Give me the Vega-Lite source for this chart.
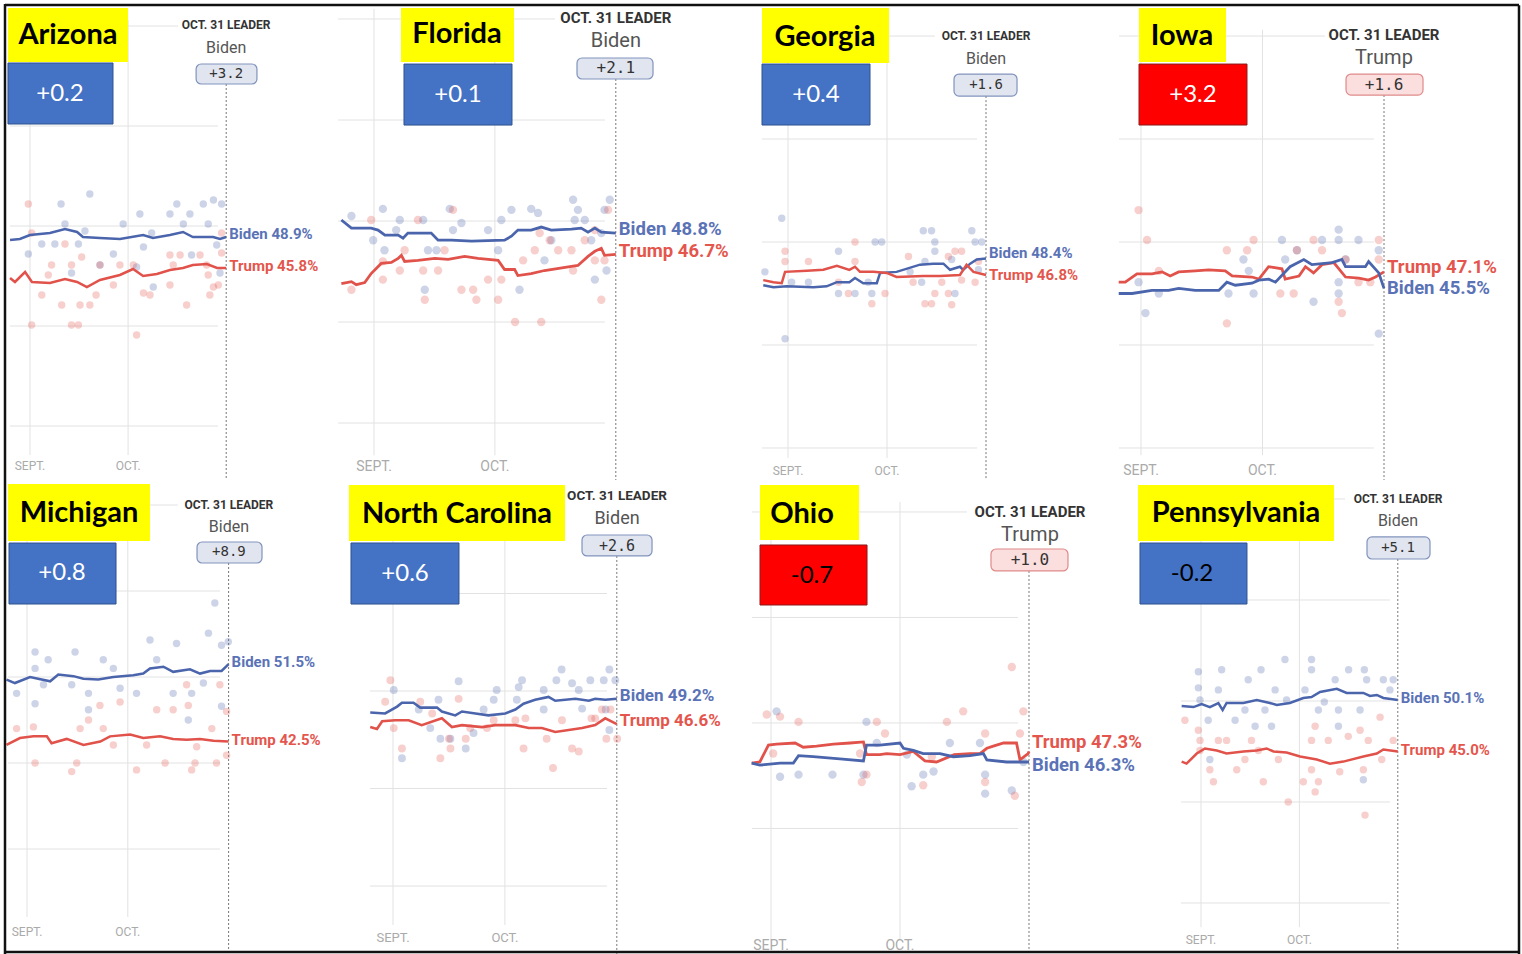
{
"$schema":"https://vega.github.io/schema/vega-lite/v6.json",
"padding":0,"background":"white","spacing":0,"bounds":"flush","columns":4,
"config":{"view":{"stroke":null},"axis":{"disable":true},"legend":{"disable":true}},
"resolve":{"scale":{"x":"independent","y":"independent"}},
"datasets":{
"summary":[
{"st":"AZ","name":"Arizona","change":"+0.2","leader":"Biden","margin":"+3.2","biden":48.9,"trump":45.8,"bl":"Biden 48.9%","tl":"Trump 45.8%"},
{"st":"FL","name":"Florida","change":"+0.1","leader":"Biden","margin":"+2.1","biden":48.8,"trump":46.7,"bl":"Biden 48.8%","tl":"Trump 46.7%"},
{"st":"GA","name":"Georgia","change":"+0.4","leader":"Biden","margin":"+1.6","biden":48.4,"trump":46.8,"bl":"Biden 48.4%","tl":"Trump 46.8%"},
{"st":"IA","name":"Iowa","change":"+3.2","leader":"Trump","margin":"+1.6","biden":45.5,"trump":47.1,"bl":"Biden 45.5%","tl":"Trump 47.1%"},
{"st":"MI","name":"Michigan","change":"+0.8","leader":"Biden","margin":"+8.9","biden":51.5,"trump":42.5,"bl":"Biden 51.5%","tl":"Trump 42.5%"},
{"st":"NC","name":"North Carolina","change":"+0.6","leader":"Biden","margin":"+2.6","biden":49.2,"trump":46.6,"bl":"Biden 49.2%","tl":"Trump 46.6%"},
{"st":"OH","name":"Ohio","change":"-0.7","leader":"Trump","margin":"+1.0","biden":46.3,"trump":47.3,"bl":"Biden 46.3%","tl":"Trump 47.3%"},
{"st":"PA","name":"Pennsylvania","change":"-0.2","leader":"Biden","margin":"+5.1","biden":50.1,"trump":45.0,"bl":"Biden 50.1%","tl":"Trump 45.0%"}
],
"avg":[
{"state":"AZ","cand":"Biden","day":-6.1,"pct":48.6},{"state":"AZ","cand":"Biden","day":-3.1,"pct":48.7},{"state":"AZ","cand":"Biden","day":0,"pct":49.1},{"state":"AZ","cand":"Biden","day":6.1,"pct":49.3},{"state":"AZ","cand":"Biden","day":10.7,"pct":49.7},{"state":"AZ","cand":"Biden","day":14.4,"pct":49.4},{"state":"AZ","cand":"Biden","day":16.2,"pct":48.9},{"state":"AZ","cand":"Biden","day":21.4,"pct":48.8},{"state":"AZ","cand":"Biden","day":27.5,"pct":48.7},{"state":"AZ","cand":"Biden","day":34.6,"pct":49.1},{"state":"AZ","cand":"Biden","day":37.6,"pct":48.8},{"state":"AZ","cand":"Biden","day":42.8,"pct":49.1},{"state":"AZ","cand":"Biden","day":46.8,"pct":49.4},{"state":"AZ","cand":"Biden","day":49.8,"pct":48.9},{"state":"AZ","cand":"Biden","day":56,"pct":48.9},{"state":"AZ","cand":"Biden","day":58.1,"pct":48.7},{"state":"AZ","cand":"Biden","day":60,"pct":48.9},
{"state":"AZ","cand":"Trump","day":-6.1,"pct":44.8},{"state":"AZ","cand":"Trump","day":-4.6,"pct":44.4},{"state":"AZ","cand":"Trump","day":-1.5,"pct":45.4},{"state":"AZ","cand":"Trump","day":0.6,"pct":44.4},{"state":"AZ","cand":"Trump","day":6.1,"pct":44.3},{"state":"AZ","cand":"Trump","day":10.7,"pct":44.7},{"state":"AZ","cand":"Trump","day":14.4,"pct":44.4},{"state":"AZ","cand":"Trump","day":17.4,"pct":43.9},{"state":"AZ","cand":"Trump","day":21.4,"pct":44.6},{"state":"AZ","cand":"Trump","day":27.5,"pct":45.1},{"state":"AZ","cand":"Trump","day":31.5,"pct":45.7},{"state":"AZ","cand":"Trump","day":34.6,"pct":45.0},{"state":"AZ","cand":"Trump","day":38.8,"pct":45.2},{"state":"AZ","cand":"Trump","day":42.8,"pct":45.6},{"state":"AZ","cand":"Trump","day":46.8,"pct":45.8},{"state":"AZ","cand":"Trump","day":49.8,"pct":46.1},{"state":"AZ","cand":"Trump","day":54.1,"pct":46.2},{"state":"AZ","cand":"Trump","day":57.2,"pct":45.8},{"state":"AZ","cand":"Trump","day":60,"pct":45.8},
{"state":"FL","cand":"Biden","day":-8.1,"pct":50.1},{"state":"FL","cand":"Biden","day":-5.6,"pct":49.3},{"state":"FL","cand":"Biden","day":-0.7,"pct":49.3},{"state":"FL","cand":"Biden","day":1.0,"pct":49.1},{"state":"FL","cand":"Biden","day":2.7,"pct":48.6},{"state":"FL","cand":"Biden","day":6.0,"pct":48.6},{"state":"FL","cand":"Biden","day":7.2,"pct":48.3},{"state":"FL","cand":"Biden","day":8.4,"pct":48.8},{"state":"FL","cand":"Biden","day":14.2,"pct":48.8},{"state":"FL","cand":"Biden","day":15.9,"pct":48.1},{"state":"FL","cand":"Biden","day":19.2,"pct":48.1},{"state":"FL","cand":"Biden","day":24.2,"pct":48.0},{"state":"FL","cand":"Biden","day":32.4,"pct":48.1},{"state":"FL","cand":"Biden","day":34.1,"pct":48.5},{"state":"FL","cand":"Biden","day":35.7,"pct":49.1},{"state":"FL","cand":"Biden","day":39.0,"pct":49.1},{"state":"FL","cand":"Biden","day":41.5,"pct":49.4},{"state":"FL","cand":"Biden","day":44.0,"pct":49.1},{"state":"FL","cand":"Biden","day":49.0,"pct":49.2},{"state":"FL","cand":"Biden","day":51.4,"pct":49.3},{"state":"FL","cand":"Biden","day":53.1,"pct":48.9},{"state":"FL","cand":"Biden","day":54.8,"pct":49.3},{"state":"FL","cand":"Biden","day":56.4,"pct":48.9},{"state":"FL","cand":"Biden","day":60,"pct":48.8},
{"state":"FL","cand":"Trump","day":-8.1,"pct":43.8},{"state":"FL","cand":"Trump","day":-5.6,"pct":44.0},{"state":"FL","cand":"Trump","day":-4.4,"pct":43.7},{"state":"FL","cand":"Trump","day":-2.3,"pct":43.9},{"state":"FL","cand":"Trump","day":-0.7,"pct":44.8},{"state":"FL","cand":"Trump","day":1.8,"pct":45.8},{"state":"FL","cand":"Trump","day":4.3,"pct":45.9},{"state":"FL","cand":"Trump","day":6.0,"pct":46.3},{"state":"FL","cand":"Trump","day":6.8,"pct":46.6},{"state":"FL","cand":"Trump","day":7.6,"pct":46.0},{"state":"FL","cand":"Trump","day":10.9,"pct":46.1},{"state":"FL","cand":"Trump","day":15.1,"pct":46.3},{"state":"FL","cand":"Trump","day":18.4,"pct":46.2},{"state":"FL","cand":"Trump","day":22.5,"pct":46.5},{"state":"FL","cand":"Trump","day":25.8,"pct":46.3},{"state":"FL","cand":"Trump","day":30.8,"pct":46.1},{"state":"FL","cand":"Trump","day":32.4,"pct":45.2},{"state":"FL","cand":"Trump","day":34.9,"pct":45.2},{"state":"FL","cand":"Trump","day":35.7,"pct":44.6},{"state":"FL","cand":"Trump","day":39.0,"pct":44.8},{"state":"FL","cand":"Trump","day":42.3,"pct":45.1},{"state":"FL","cand":"Trump","day":49.0,"pct":45.5},{"state":"FL","cand":"Trump","day":50.6,"pct":45.6},{"state":"FL","cand":"Trump","day":53.1,"pct":46.5},{"state":"FL","cand":"Trump","day":54.8,"pct":47.0},{"state":"FL","cand":"Trump","day":56.4,"pct":47.3},{"state":"FL","cand":"Trump","day":57.2,"pct":46.6},{"state":"FL","cand":"Trump","day":60,"pct":46.7},
{"state":"GA","cand":"Biden","day":-7.5,"pct":45.8},{"state":"GA","cand":"Biden","day":-4.4,"pct":45.6},{"state":"GA","cand":"Biden","day":-0.4,"pct":45.7},{"state":"GA","cand":"Biden","day":7.7,"pct":45.6},{"state":"GA","cand":"Biden","day":11.7,"pct":45.7},{"state":"GA","cand":"Biden","day":14.8,"pct":46.1},{"state":"GA","cand":"Biden","day":18.6,"pct":46.1},{"state":"GA","cand":"Biden","day":20.3,"pct":46.5},{"state":"GA","cand":"Biden","day":22.8,"pct":46.0},{"state":"GA","cand":"Biden","day":26.9,"pct":46.0},{"state":"GA","cand":"Biden","day":27.9,"pct":47.0},{"state":"GA","cand":"Biden","day":32.9,"pct":47.1},{"state":"GA","cand":"Biden","day":40.0,"pct":47.8},{"state":"GA","cand":"Biden","day":44.0,"pct":47.9},{"state":"GA","cand":"Biden","day":47.1,"pct":47.9},{"state":"GA","cand":"Biden","day":49.1,"pct":47.3},{"state":"GA","cand":"Biden","day":52.1,"pct":47.6},{"state":"GA","cand":"Biden","day":53.1,"pct":47.3},{"state":"GA","cand":"Biden","day":55.2,"pct":47.9},{"state":"GA","cand":"Biden","day":57.2,"pct":48.3},{"state":"GA","cand":"Biden","day":60,"pct":48.4},
{"state":"GA","cand":"Trump","day":-7.5,"pct":46.3},{"state":"GA","cand":"Trump","day":-4.4,"pct":46.1},{"state":"GA","cand":"Trump","day":-1.9,"pct":46.0},{"state":"GA","cand":"Trump","day":-0.9,"pct":47.1},{"state":"GA","cand":"Trump","day":5.7,"pct":47.2},{"state":"GA","cand":"Trump","day":10.7,"pct":47.3},{"state":"GA","cand":"Trump","day":14.8,"pct":47.7},{"state":"GA","cand":"Trump","day":18.6,"pct":47.3},{"state":"GA","cand":"Trump","day":20.3,"pct":47.6},{"state":"GA","cand":"Trump","day":21.8,"pct":47.1},{"state":"GA","cand":"Trump","day":25.9,"pct":47.1},{"state":"GA","cand":"Trump","day":29.9,"pct":47.0},{"state":"GA","cand":"Trump","day":32.9,"pct":46.6},{"state":"GA","cand":"Trump","day":41.0,"pct":46.7},{"state":"GA","cand":"Trump","day":46.1,"pct":46.7},{"state":"GA","cand":"Trump","day":52.1,"pct":46.8},{"state":"GA","cand":"Trump","day":54.1,"pct":47.8},{"state":"GA","cand":"Trump","day":56.2,"pct":47.1},{"state":"GA","cand":"Trump","day":60,"pct":46.8},
{"state":"IA","cand":"Trump","day":-5.5,"pct":46.1},{"state":"IA","cand":"Trump","day":-3.9,"pct":46.1},{"state":"IA","cand":"Trump","day":-1.0,"pct":46.9},{"state":"IA","cand":"Trump","day":2.7,"pct":46.9},{"state":"IA","cand":"Trump","day":5.2,"pct":47.1},{"state":"IA","cand":"Trump","day":7.2,"pct":46.7},{"state":"IA","cand":"Trump","day":9.3,"pct":47.1},{"state":"IA","cand":"Trump","day":13.4,"pct":47.2},{"state":"IA","cand":"Trump","day":16.7,"pct":47.3},{"state":"IA","cand":"Trump","day":20.8,"pct":47.2},{"state":"IA","cand":"Trump","day":22.5,"pct":46.7},{"state":"IA","cand":"Trump","day":27.4,"pct":46.6},{"state":"IA","cand":"Trump","day":29.1,"pct":46.4},{"state":"IA","cand":"Trump","day":31.5,"pct":47.6},{"state":"IA","cand":"Trump","day":34.8,"pct":47.4},{"state":"IA","cand":"Trump","day":35.6,"pct":46.4},{"state":"IA","cand":"Trump","day":39.0,"pct":46.7},{"state":"IA","cand":"Trump","day":40.6,"pct":47.6},{"state":"IA","cand":"Trump","day":42.6,"pct":47.0},{"state":"IA","cand":"Trump","day":44.7,"pct":47.8},{"state":"IA","cand":"Trump","day":47.6,"pct":48.0},{"state":"IA","cand":"Trump","day":50.5,"pct":46.6},{"state":"IA","cand":"Trump","day":53.8,"pct":46.5},{"state":"IA","cand":"Trump","day":56.2,"pct":46.3},{"state":"IA","cand":"Trump","day":57.9,"pct":46.6},{"state":"IA","cand":"Trump","day":60,"pct":47.1},
{"state":"IA","cand":"Biden","day":-5.5,"pct":45.0},{"state":"IA","cand":"Biden","day":-2.2,"pct":45.0},{"state":"IA","cand":"Biden","day":2.7,"pct":45.3},{"state":"IA","cand":"Biden","day":6.8,"pct":45.3},{"state":"IA","cand":"Biden","day":9.3,"pct":45.5},{"state":"IA","cand":"Biden","day":13.4,"pct":45.3},{"state":"IA","cand":"Biden","day":19.2,"pct":45.3},{"state":"IA","cand":"Biden","day":21.2,"pct":46.1},{"state":"IA","cand":"Biden","day":23.3,"pct":45.8},{"state":"IA","cand":"Biden","day":27.4,"pct":46.0},{"state":"IA","cand":"Biden","day":29.1,"pct":46.3},{"state":"IA","cand":"Biden","day":31.5,"pct":46.4},{"state":"IA","cand":"Biden","day":33.2,"pct":46.1},{"state":"IA","cand":"Biden","day":36.8,"pct":47.6},{"state":"IA","cand":"Biden","day":40.2,"pct":48.3},{"state":"IA","cand":"Biden","day":42.2,"pct":47.8},{"state":"IA","cand":"Biden","day":47.2,"pct":48.0},{"state":"IA","cand":"Biden","day":49.6,"pct":48.3},{"state":"IA","cand":"Biden","day":50.5,"pct":47.6},{"state":"IA","cand":"Biden","day":55.4,"pct":47.6},{"state":"IA","cand":"Biden","day":56.2,"pct":48.1},{"state":"IA","cand":"Biden","day":58.7,"pct":47.0},{"state":"IA","cand":"Biden","day":60,"pct":45.5},
{"state":"MI","cand":"Biden","day":-6.1,"pct":49.7},{"state":"MI","cand":"Biden","day":-3.6,"pct":49.3},{"state":"MI","cand":"Biden","day":0.9,"pct":50.0},{"state":"MI","cand":"Biden","day":6.9,"pct":49.5},{"state":"MI","cand":"Biden","day":9.3,"pct":50.3},{"state":"MI","cand":"Biden","day":13.8,"pct":50.1},{"state":"MI","cand":"Biden","day":16.8,"pct":49.8},{"state":"MI","cand":"Biden","day":21.2,"pct":49.7},{"state":"MI","cand":"Biden","day":25.7,"pct":50.0},{"state":"MI","cand":"Biden","day":31.6,"pct":50.2},{"state":"MI","cand":"Biden","day":34.6,"pct":50.4},{"state":"MI","cand":"Biden","day":36.6,"pct":51.0},{"state":"MI","cand":"Biden","day":40.6,"pct":51.2},{"state":"MI","cand":"Biden","day":43.5,"pct":50.6},{"state":"MI","cand":"Biden","day":48.5,"pct":50.9},{"state":"MI","cand":"Biden","day":51.5,"pct":50.4},{"state":"MI","cand":"Biden","day":54.5,"pct":50.7},{"state":"MI","cand":"Biden","day":57.9,"pct":50.7},{"state":"MI","cand":"Biden","day":60,"pct":51.5},
{"state":"MI","cand":"Trump","day":-6.1,"pct":42.1},{"state":"MI","cand":"Trump","day":-2.1,"pct":42.9},{"state":"MI","cand":"Trump","day":1.9,"pct":43.1},{"state":"MI","cand":"Trump","day":5.9,"pct":43.1},{"state":"MI","cand":"Trump","day":7.3,"pct":42.3},{"state":"MI","cand":"Trump","day":11.8,"pct":42.8},{"state":"MI","cand":"Trump","day":16.8,"pct":42.1},{"state":"MI","cand":"Trump","day":21.8,"pct":42.5},{"state":"MI","cand":"Trump","day":24.7,"pct":43.1},{"state":"MI","cand":"Trump","day":30.7,"pct":43.3},{"state":"MI","cand":"Trump","day":34.6,"pct":42.9},{"state":"MI","cand":"Trump","day":39.6,"pct":43.1},{"state":"MI","cand":"Trump","day":43.5,"pct":42.8},{"state":"MI","cand":"Trump","day":47.5,"pct":42.7},{"state":"MI","cand":"Trump","day":51.5,"pct":42.8},{"state":"MI","cand":"Trump","day":55.5,"pct":42.6},{"state":"MI","cand":"Trump","day":60,"pct":42.5},
{"state":"NC","cand":"Biden","day":-6.1,"pct":47.8},{"state":"NC","cand":"Biden","day":-2.1,"pct":47.7},{"state":"NC","cand":"Biden","day":1.1,"pct":48.4},{"state":"NC","cand":"Biden","day":2.4,"pct":48.8},{"state":"NC","cand":"Biden","day":5.5,"pct":48.8},{"state":"NC","cand":"Biden","day":7.3,"pct":48.3},{"state":"NC","cand":"Biden","day":11.8,"pct":48.3},{"state":"NC","cand":"Biden","day":13.1,"pct":47.9},{"state":"NC","cand":"Biden","day":16.7,"pct":47.5},{"state":"NC","cand":"Biden","day":18.5,"pct":47.9},{"state":"NC","cand":"Biden","day":22.1,"pct":47.7},{"state":"NC","cand":"Biden","day":25.6,"pct":47.5},{"state":"NC","cand":"Biden","day":30.1,"pct":47.7},{"state":"NC","cand":"Biden","day":32.8,"pct":48.1},{"state":"NC","cand":"Biden","day":35.0,"pct":48.7},{"state":"NC","cand":"Biden","day":38.1,"pct":49.1},{"state":"NC","cand":"Biden","day":41.7,"pct":49.4},{"state":"NC","cand":"Biden","day":43.5,"pct":49.0},{"state":"NC","cand":"Biden","day":48.9,"pct":49.2},{"state":"NC","cand":"Biden","day":52.5,"pct":49.0},{"state":"NC","cand":"Biden","day":54.2,"pct":49.2},{"state":"NC","cand":"Biden","day":56.9,"pct":49.1},{"state":"NC","cand":"Biden","day":60,"pct":49.2},
{"state":"NC","cand":"Trump","day":-6.1,"pct":46.3},{"state":"NC","cand":"Trump","day":-4.3,"pct":46.1},{"state":"NC","cand":"Trump","day":-2.9,"pct":46.9},{"state":"NC","cand":"Trump","day":0.6,"pct":47.0},{"state":"NC","cand":"Trump","day":4.2,"pct":47.0},{"state":"NC","cand":"Trump","day":7.7,"pct":46.5},{"state":"NC","cand":"Trump","day":13.1,"pct":47.2},{"state":"NC","cand":"Trump","day":15.8,"pct":46.3},{"state":"NC","cand":"Trump","day":18.5,"pct":46.5},{"state":"NC","cand":"Trump","day":23.9,"pct":46.3},{"state":"NC","cand":"Trump","day":27.4,"pct":46.5},{"state":"NC","cand":"Trump","day":32.8,"pct":46.5},{"state":"NC","cand":"Trump","day":36.4,"pct":46.2},{"state":"NC","cand":"Trump","day":39.9,"pct":46.2},{"state":"NC","cand":"Trump","day":43.5,"pct":45.8},{"state":"NC","cand":"Trump","day":47.1,"pct":46.0},{"state":"NC","cand":"Trump","day":50.7,"pct":46.2},{"state":"NC","cand":"Trump","day":54.2,"pct":46.5},{"state":"NC","cand":"Trump","day":56.9,"pct":47.2},{"state":"NC","cand":"Trump","day":60,"pct":46.6},
{"state":"OH","cand":"Trump","day":-4.5,"pct":46.2},{"state":"OH","cand":"Trump","day":-2.6,"pct":46.3},{"state":"OH","cand":"Trump","day":-0.6,"pct":47.9},{"state":"OH","cand":"Trump","day":1.3,"pct":48.0},{"state":"OH","cand":"Trump","day":5.6,"pct":48.1},{"state":"OH","cand":"Trump","day":7.5,"pct":47.7},{"state":"OH","cand":"Trump","day":10.6,"pct":47.8},{"state":"OH","cand":"Trump","day":14.5,"pct":48.0},{"state":"OH","cand":"Trump","day":18.4,"pct":48.1},{"state":"OH","cand":"Trump","day":21.5,"pct":48.2},{"state":"OH","cand":"Trump","day":22.2,"pct":47.0},{"state":"OH","cand":"Trump","day":25.3,"pct":47.0},{"state":"OH","cand":"Trump","day":26.9,"pct":47.1},{"state":"OH","cand":"Trump","day":30.0,"pct":47.0},{"state":"OH","cand":"Trump","day":33.1,"pct":47.3},{"state":"OH","cand":"Trump","day":35.8,"pct":46.4},{"state":"OH","cand":"Trump","day":38.5,"pct":46.3},{"state":"OH","cand":"Trump","day":42.6,"pct":47.0},{"state":"OH","cand":"Trump","day":46.3,"pct":47.1},{"state":"OH","cand":"Trump","day":48.6,"pct":47.1},{"state":"OH","cand":"Trump","day":50.2,"pct":47.6},{"state":"OH","cand":"Trump","day":51.7,"pct":47.8},{"state":"OH","cand":"Trump","day":54.1,"pct":48.1},{"state":"OH","cand":"Trump","day":57.1,"pct":48.1},{"state":"OH","cand":"Trump","day":57.9,"pct":46.5},{"state":"OH","cand":"Trump","day":59.8,"pct":47.1},{"state":"OH","cand":"Trump","day":60,"pct":47.3},
{"state":"OH","cand":"Biden","day":-4.5,"pct":46.2},{"state":"OH","cand":"Biden","day":-2.6,"pct":46.0},{"state":"OH","cand":"Biden","day":2.1,"pct":46.2},{"state":"OH","cand":"Biden","day":5.2,"pct":46.2},{"state":"OH","cand":"Biden","day":6.4,"pct":46.9},{"state":"OH","cand":"Biden","day":9.8,"pct":46.8},{"state":"OH","cand":"Biden","day":16.0,"pct":46.6},{"state":"OH","cand":"Biden","day":21.5,"pct":46.4},{"state":"OH","cand":"Biden","day":22.2,"pct":47.9},{"state":"OH","cand":"Biden","day":25.3,"pct":47.9},{"state":"OH","cand":"Biden","day":30.0,"pct":48.1},{"state":"OH","cand":"Biden","day":30.8,"pct":47.6},{"state":"OH","cand":"Biden","day":33.1,"pct":47.4},{"state":"OH","cand":"Biden","day":35.4,"pct":47.1},{"state":"OH","cand":"Biden","day":39.3,"pct":47.1},{"state":"OH","cand":"Biden","day":42.4,"pct":46.8},{"state":"OH","cand":"Biden","day":46.3,"pct":46.9},{"state":"OH","cand":"Biden","day":49.4,"pct":47.1},{"state":"OH","cand":"Biden","day":50.2,"pct":46.5},{"state":"OH","cand":"Biden","day":54.8,"pct":46.3},{"state":"OH","cand":"Biden","day":60,"pct":46.3},
{"state":"PA","cand":"Biden","day":-5.9,"pct":49.5},{"state":"PA","cand":"Biden","day":-2.3,"pct":49.4},{"state":"PA","cand":"Biden","day":0.2,"pct":49.7},{"state":"PA","cand":"Biden","day":2.7,"pct":49.4},{"state":"PA","cand":"Biden","day":5.3,"pct":49.8},{"state":"PA","cand":"Biden","day":6.6,"pct":49.1},{"state":"PA","cand":"Biden","day":7.8,"pct":49.8},{"state":"PA","cand":"Biden","day":12.9,"pct":49.8},{"state":"PA","cand":"Biden","day":17.0,"pct":50.1},{"state":"PA","cand":"Biden","day":21.0,"pct":49.8},{"state":"PA","cand":"Biden","day":23.1,"pct":49.6},{"state":"PA","cand":"Biden","day":27.1,"pct":49.8},{"state":"PA","cand":"Biden","day":31.2,"pct":50.3},{"state":"PA","cand":"Biden","day":33.7,"pct":50.4},{"state":"PA","cand":"Biden","day":36.3,"pct":50.9},{"state":"PA","cand":"Biden","day":41.4,"pct":51.2},{"state":"PA","cand":"Biden","day":44.4,"pct":50.8},{"state":"PA","cand":"Biden","day":49.5,"pct":50.8},{"state":"PA","cand":"Biden","day":51.5,"pct":50.5},{"state":"PA","cand":"Biden","day":53.6,"pct":50.6},{"state":"PA","cand":"Biden","day":55.6,"pct":50.3},{"state":"PA","cand":"Biden","day":60,"pct":50.1},
{"state":"PA","cand":"Trump","day":-5.9,"pct":44.0},{"state":"PA","cand":"Trump","day":-4.4,"pct":43.8},{"state":"PA","cand":"Trump","day":-1.3,"pct":44.8},{"state":"PA","cand":"Trump","day":1.2,"pct":45.3},{"state":"PA","cand":"Trump","day":4.8,"pct":45.1},{"state":"PA","cand":"Trump","day":7.8,"pct":44.8},{"state":"PA","cand":"Trump","day":12.9,"pct":45.0},{"state":"PA","cand":"Trump","day":17.0,"pct":45.1},{"state":"PA","cand":"Trump","day":20.0,"pct":45.3},{"state":"PA","cand":"Trump","day":22.1,"pct":45.0},{"state":"PA","cand":"Trump","day":26.1,"pct":44.9},{"state":"PA","cand":"Trump","day":30.2,"pct":44.5},{"state":"PA","cand":"Trump","day":35.3,"pct":44.2},{"state":"PA","cand":"Trump","day":39.3,"pct":43.8},{"state":"PA","cand":"Trump","day":43.4,"pct":44.0},{"state":"PA","cand":"Trump","day":49.5,"pct":44.5},{"state":"PA","cand":"Trump","day":53.6,"pct":44.8},{"state":"PA","cand":"Trump","day":55.6,"pct":45.2},{"state":"PA","cand":"Trump","day":60,"pct":45.0}
],
"polls":[
{"state":"AZ","cand":"Biden","day":18.3,"pct":53.2},{"state":"AZ","cand":"Biden","day":9.5,"pct":52.2},{"state":"AZ","cand":"Biden","day":10.7,"pct":50.2},{"state":"AZ","cand":"Biden","day":3.6,"pct":48.2},{"state":"AZ","cand":"Biden","day":7.6,"pct":48.2},{"state":"AZ","cand":"Biden","day":14.8,"pct":48.2},{"state":"AZ","cand":"Biden","day":-0.5,"pct":47.2},{"state":"AZ","cand":"Biden","day":16.8,"pct":49.5},{"state":"AZ","cand":"Biden","day":25.5,"pct":47.2},{"state":"AZ","cand":"Biden","day":28.5,"pct":50.2},{"state":"AZ","cand":"Biden","day":33.6,"pct":51.2},{"state":"AZ","cand":"Biden","day":34.7,"pct":47.9},{"state":"AZ","cand":"Biden","day":37.7,"pct":43.9},{"state":"AZ","cand":"Biden","day":42.8,"pct":51.2},{"state":"AZ","cand":"Biden","day":44.9,"pct":52.2},{"state":"AZ","cand":"Biden","day":48.9,"pct":51.2},{"state":"AZ","cand":"Biden","day":46.9,"pct":50.2},{"state":"AZ","cand":"Biden","day":53.0,"pct":52.2},{"state":"AZ","cand":"Biden","day":56.1,"pct":52.6},{"state":"AZ","cand":"Biden","day":58.6,"pct":52.2},{"state":"AZ","cand":"Biden","day":54.5,"pct":50.2},{"state":"AZ","cand":"Biden","day":57.1,"pct":48.1},{"state":"AZ","cand":"Biden","day":49.4,"pct":47.1},{"state":"AZ","cand":"Biden","day":58.1,"pct":45.3},{"state":"AZ","cand":"Biden","day":32.6,"pct":45.9},{"state":"AZ","cand":"Biden","day":21.4,"pct":46.1},{"state":"AZ","cand":"Biden","day":12.7,"pct":45.3},{"state":"AZ","cand":"Biden","day":37.2,"pct":49.3},
{"state":"AZ","cand":"Trump","day":-0.5,"pct":52.2},{"state":"AZ","cand":"Trump","day":0.5,"pct":49.3},{"state":"AZ","cand":"Trump","day":10.7,"pct":48.2},{"state":"AZ","cand":"Trump","day":6.6,"pct":46.1},{"state":"AZ","cand":"Trump","day":12.7,"pct":46.1},{"state":"AZ","cand":"Trump","day":15.8,"pct":46.9},{"state":"AZ","cand":"Trump","day":21.4,"pct":46.1},{"state":"AZ","cand":"Trump","day":27.5,"pct":46.1},{"state":"AZ","cand":"Trump","day":31.6,"pct":46.1},{"state":"AZ","cand":"Trump","day":43.8,"pct":46.1},{"state":"AZ","cand":"Trump","day":45.9,"pct":47.1},{"state":"AZ","cand":"Trump","day":42.8,"pct":47.1},{"state":"AZ","cand":"Trump","day":52.0,"pct":47.1},{"state":"AZ","cand":"Trump","day":54.0,"pct":46.1},{"state":"AZ","cand":"Trump","day":58.6,"pct":49.3},{"state":"AZ","cand":"Trump","day":58.6,"pct":47.3},{"state":"AZ","cand":"Trump","day":3.6,"pct":43.1},{"state":"AZ","cand":"Trump","day":9.7,"pct":42.1},{"state":"AZ","cand":"Trump","day":15.3,"pct":42.1},{"state":"AZ","cand":"Trump","day":18.3,"pct":42.1},{"state":"AZ","cand":"Trump","day":0.5,"pct":40.1},{"state":"AZ","cand":"Trump","day":12.7,"pct":40.1},{"state":"AZ","cand":"Trump","day":14.8,"pct":40.1},{"state":"AZ","cand":"Trump","day":5.6,"pct":45.1},{"state":"AZ","cand":"Trump","day":20.2,"pct":43.1},{"state":"AZ","cand":"Trump","day":25.5,"pct":44.1},{"state":"AZ","cand":"Trump","day":32.6,"pct":39.1},{"state":"AZ","cand":"Trump","day":34.7,"pct":43.3},{"state":"AZ","cand":"Trump","day":36.7,"pct":43.1},{"state":"AZ","cand":"Trump","day":42.8,"pct":44.1},{"state":"AZ","cand":"Trump","day":47.9,"pct":42.1},{"state":"AZ","cand":"Trump","day":55.0,"pct":43.1},{"state":"AZ","cand":"Trump","day":56.1,"pct":43.9},{"state":"AZ","cand":"Trump","day":57.6,"pct":44.1},{"state":"AZ","cand":"Trump","day":54.5,"pct":45.1},
{"state":"FL","cand":"Biden","day":-5.6,"pct":50.5},{"state":"FL","cand":"Biden","day":2.2,"pct":51.2},{"state":"FL","cand":"Biden","day":6.4,"pct":50.1},{"state":"FL","cand":"Biden","day":5.5,"pct":49.1},{"state":"FL","cand":"Biden","day":12.2,"pct":50.1},{"state":"FL","cand":"Biden","day":18.8,"pct":51.2},{"state":"FL","cand":"Biden","day":19.6,"pct":49.1},{"state":"FL","cand":"Biden","day":21.7,"pct":49.8},{"state":"FL","cand":"Biden","day":-0.2,"pct":48.1},{"state":"FL","cand":"Biden","day":2.6,"pct":47.1},{"state":"FL","cand":"Biden","day":13.4,"pct":47.1},{"state":"FL","cand":"Biden","day":15.5,"pct":47.1},{"state":"FL","cand":"Biden","day":12.6,"pct":43.2},{"state":"FL","cand":"Biden","day":28.3,"pct":49.1},{"state":"FL","cand":"Biden","day":30.8,"pct":47.1},{"state":"FL","cand":"Biden","day":31.6,"pct":50.1},{"state":"FL","cand":"Biden","day":34.1,"pct":51.1},{"state":"FL","cand":"Biden","day":36.1,"pct":43.2},{"state":"FL","cand":"Biden","day":39.0,"pct":51.2},{"state":"FL","cand":"Biden","day":40.7,"pct":50.8},{"state":"FL","cand":"Biden","day":42.3,"pct":46.1},{"state":"FL","cand":"Biden","day":44.0,"pct":48.1},{"state":"FL","cand":"Biden","day":49.4,"pct":52.1},{"state":"FL","cand":"Biden","day":49.8,"pct":50.1},{"state":"FL","cand":"Biden","day":50.6,"pct":51.1},{"state":"FL","cand":"Biden","day":52.3,"pct":50.1},{"state":"FL","cand":"Biden","day":54.8,"pct":44.2},{"state":"FL","cand":"Biden","day":56.4,"pct":48.8},{"state":"FL","cand":"Biden","day":57.2,"pct":51.1},{"state":"FL","cand":"Biden","day":58.5,"pct":52.1},{"state":"FL","cand":"Biden","day":57.7,"pct":45.1},{"state":"FL","cand":"Biden","day":53.9,"pct":48.1},
{"state":"FL","cand":"Trump","day":-0.7,"pct":50.1},{"state":"FL","cand":"Trump","day":-5.6,"pct":43.2},{"state":"FL","cand":"Trump","day":2.2,"pct":46.0},{"state":"FL","cand":"Trump","day":2.2,"pct":44.2},{"state":"FL","cand":"Trump","day":6.4,"pct":45.1},{"state":"FL","cand":"Trump","day":7.6,"pct":47.1},{"state":"FL","cand":"Trump","day":10.9,"pct":50.1},{"state":"FL","cand":"Trump","day":12.2,"pct":45.1},{"state":"FL","cand":"Trump","day":12.6,"pct":42.2},{"state":"FL","cand":"Trump","day":15.9,"pct":45.1},{"state":"FL","cand":"Trump","day":17.5,"pct":47.1},{"state":"FL","cand":"Trump","day":19.6,"pct":51.1},{"state":"FL","cand":"Trump","day":21.7,"pct":43.2},{"state":"FL","cand":"Trump","day":24.6,"pct":43.2},{"state":"FL","cand":"Trump","day":25.4,"pct":42.2},{"state":"FL","cand":"Trump","day":28.3,"pct":44.2},{"state":"FL","cand":"Trump","day":30.8,"pct":42.2},{"state":"FL","cand":"Trump","day":31.6,"pct":44.2},{"state":"FL","cand":"Trump","day":35.0,"pct":40.0},{"state":"FL","cand":"Trump","day":37.0,"pct":46.1},{"state":"FL","cand":"Trump","day":39.9,"pct":47.1},{"state":"FL","cand":"Trump","day":41.5,"pct":40.0},{"state":"FL","cand":"Trump","day":41.1,"pct":48.8},{"state":"FL","cand":"Trump","day":43.6,"pct":48.1},{"state":"FL","cand":"Trump","day":45.7,"pct":47.1},{"state":"FL","cand":"Trump","day":49.0,"pct":47.1},{"state":"FL","cand":"Trump","day":49.4,"pct":45.1},{"state":"FL","cand":"Trump","day":52.3,"pct":48.1},{"state":"FL","cand":"Trump","day":54.8,"pct":49.1},{"state":"FL","cand":"Trump","day":56.4,"pct":42.2},{"state":"FL","cand":"Trump","day":58.1,"pct":51.1},{"state":"FL","cand":"Trump","day":57.2,"pct":46.1},{"state":"FL","cand":"Trump","day":54.8,"pct":46.1},
{"state":"GA","cand":"Biden","day":-1.9,"pct":52.3},{"state":"GA","cand":"Biden","day":-0.9,"pct":40.6},{"state":"GA","cand":"Biden","day":-7.0,"pct":47.1},{"state":"GA","cand":"Biden","day":1.1,"pct":46.1},{"state":"GA","cand":"Biden","day":6.2,"pct":46.1},{"state":"GA","cand":"Biden","day":15.3,"pct":49.1},{"state":"GA","cand":"Biden","day":15.3,"pct":45.0},{"state":"GA","cand":"Biden","day":20.3,"pct":45.0},{"state":"GA","cand":"Biden","day":25.4,"pct":45.0},{"state":"GA","cand":"Biden","day":26.4,"pct":50.0},{"state":"GA","cand":"Biden","day":28.4,"pct":50.0},{"state":"GA","cand":"Biden","day":24.3,"pct":46.1},{"state":"GA","cand":"Biden","day":41.0,"pct":51.1},{"state":"GA","cand":"Biden","day":43.5,"pct":51.1},{"state":"GA","cand":"Biden","day":44.5,"pct":50.0},{"state":"GA","cand":"Biden","day":44.5,"pct":49.1},{"state":"GA","cand":"Biden","day":41.5,"pct":48.1},{"state":"GA","cand":"Biden","day":40.5,"pct":46.1},{"state":"GA","cand":"Biden","day":50.6,"pct":45.0},{"state":"GA","cand":"Biden","day":55.7,"pct":51.1},{"state":"GA","cand":"Biden","day":56.7,"pct":50.0},{"state":"GA","cand":"Biden","day":58.7,"pct":50.0},{"state":"GA","cand":"Biden","day":57.7,"pct":47.3},{"state":"GA","cand":"Biden","day":49.6,"pct":48.3},{"state":"GA","cand":"Biden","day":37.0,"pct":47.1},
{"state":"GA","cand":"Trump","day":-0.9,"pct":49.1},{"state":"GA","cand":"Trump","day":-0.9,"pct":48.1},{"state":"GA","cand":"Trump","day":6.2,"pct":48.1},{"state":"GA","cand":"Trump","day":15.3,"pct":46.1},{"state":"GA","cand":"Trump","day":18.3,"pct":45.0},{"state":"GA","cand":"Trump","day":20.3,"pct":50.0},{"state":"GA","cand":"Trump","day":20.3,"pct":48.1},{"state":"GA","cand":"Trump","day":25.4,"pct":44.0},{"state":"GA","cand":"Trump","day":29.4,"pct":45.0},{"state":"GA","cand":"Trump","day":36.5,"pct":48.6},{"state":"GA","cand":"Trump","day":37.9,"pct":46.1},{"state":"GA","cand":"Trump","day":41.5,"pct":44.0},{"state":"GA","cand":"Trump","day":43.5,"pct":44.0},{"state":"GA","cand":"Trump","day":44.5,"pct":45.0},{"state":"GA","cand":"Trump","day":49.6,"pct":43.9},{"state":"GA","cand":"Trump","day":48.6,"pct":45.0},{"state":"GA","cand":"Trump","day":48.6,"pct":48.6},{"state":"GA","cand":"Trump","day":50.6,"pct":49.1},{"state":"GA","cand":"Trump","day":52.6,"pct":49.1},{"state":"GA","cand":"Trump","day":52.6,"pct":46.3},{"state":"GA","cand":"Trump","day":56.7,"pct":46.1},{"state":"GA","cand":"Trump","day":57.7,"pct":48.1},{"state":"GA","cand":"Trump","day":46.6,"pct":46.1},
{"state":"IA","cand":"Biden","day":-0.6,"pct":46.1},{"state":"IA","cand":"Biden","day":1.1,"pct":43.1},{"state":"IA","cand":"Biden","day":4.4,"pct":45.0},{"state":"IA","cand":"Biden","day":21.6,"pct":45.0},{"state":"IA","cand":"Biden","day":25.3,"pct":48.3},{"state":"IA","cand":"Biden","day":26.6,"pct":47.2},{"state":"IA","cand":"Biden","day":27.8,"pct":45.0},{"state":"IA","cand":"Biden","day":34.8,"pct":50.2},{"state":"IA","cand":"Biden","day":35.6,"pct":48.3},{"state":"IA","cand":"Biden","day":38.5,"pct":49.2},{"state":"IA","cand":"Biden","day":42.6,"pct":44.2},{"state":"IA","cand":"Biden","day":44.7,"pct":50.2},{"state":"IA","cand":"Biden","day":48.8,"pct":51.2},{"state":"IA","cand":"Biden","day":48.8,"pct":50.2},{"state":"IA","cand":"Biden","day":53.7,"pct":50.2},{"state":"IA","cand":"Biden","day":48.8,"pct":45.0},{"state":"IA","cand":"Biden","day":50.5,"pct":48.3},{"state":"IA","cand":"Biden","day":58.7,"pct":49.2},{"state":"IA","cand":"Biden","day":58.7,"pct":41.1},{"state":"IA","cand":"Biden","day":48.8,"pct":46.1},
{"state":"IA","cand":"Trump","day":-0.6,"pct":53.1},{"state":"IA","cand":"Trump","day":1.5,"pct":50.2},{"state":"IA","cand":"Trump","day":4.4,"pct":47.2},{"state":"IA","cand":"Trump","day":21.2,"pct":49.2},{"state":"IA","cand":"Trump","day":21.2,"pct":42.1},{"state":"IA","cand":"Trump","day":26.2,"pct":49.2},{"state":"IA","cand":"Trump","day":27.8,"pct":50.2},{"state":"IA","cand":"Trump","day":34.4,"pct":45.0},{"state":"IA","cand":"Trump","day":37.7,"pct":45.0},{"state":"IA","cand":"Trump","day":38.5,"pct":49.2},{"state":"IA","cand":"Trump","day":42.6,"pct":50.2},{"state":"IA","cand":"Trump","day":44.7,"pct":49.2},{"state":"IA","cand":"Trump","day":49.6,"pct":43.1},{"state":"IA","cand":"Trump","day":48.8,"pct":44.2},{"state":"IA","cand":"Trump","day":50.5,"pct":48.3},{"state":"IA","cand":"Trump","day":53.7,"pct":46.1},{"state":"IA","cand":"Trump","day":58.7,"pct":50.2},{"state":"IA","cand":"Trump","day":58.7,"pct":48.3},{"state":"IA","cand":"Trump","day":56.6,"pct":46.1},
{"state":"MI","cand":"Biden","day":2.4,"pct":52.9},{"state":"MI","cand":"Biden","day":2.4,"pct":51.0},{"state":"MI","cand":"Biden","day":6.3,"pct":52.0},{"state":"MI","cand":"Biden","day":14.3,"pct":52.9},{"state":"MI","cand":"Biden","day":4.9,"pct":49.1},{"state":"MI","cand":"Biden","day":13.3,"pct":49.1},{"state":"MI","cand":"Biden","day":18.3,"pct":48.1},{"state":"MI","cand":"Biden","day":22.7,"pct":52.0},{"state":"MI","cand":"Biden","day":25.7,"pct":51.0},{"state":"MI","cand":"Biden","day":27.7,"pct":48.7},{"state":"MI","cand":"Biden","day":32.6,"pct":48.1},{"state":"MI","cand":"Biden","day":36.6,"pct":54.3},{"state":"MI","cand":"Biden","day":38.6,"pct":52.0},{"state":"MI","cand":"Biden","day":44.5,"pct":53.9},{"state":"MI","cand":"Biden","day":43.5,"pct":48.1},{"state":"MI","cand":"Biden","day":49.0,"pct":48.1},{"state":"MI","cand":"Biden","day":54.0,"pct":55.1},{"state":"MI","cand":"Biden","day":55.9,"pct":58.6},{"state":"MI","cand":"Biden","day":57.9,"pct":53.7},{"state":"MI","cand":"Biden","day":59.9,"pct":54.1},{"state":"MI","cand":"Biden","day":2.4,"pct":46.9},{"state":"MI","cand":"Biden","day":18.3,"pct":46.2},{"state":"MI","cand":"Biden","day":48.0,"pct":45.0},{"state":"MI","cand":"Biden","day":57.9,"pct":46.6},{"state":"MI","cand":"Biden","day":52.5,"pct":49.3},{"state":"MI","cand":"Biden","day":-3.1,"pct":48.1},
{"state":"MI","cand":"Trump","day":-3.1,"pct":44.0},{"state":"MI","cand":"Trump","day":1.9,"pct":44.2},{"state":"MI","cand":"Trump","day":2.4,"pct":40.0},{"state":"MI","cand":"Trump","day":13.3,"pct":39.0},{"state":"MI","cand":"Trump","day":14.8,"pct":40.0},{"state":"MI","cand":"Trump","day":15.8,"pct":44.0},{"state":"MI","cand":"Trump","day":18.3,"pct":45.0},{"state":"MI","cand":"Trump","day":21.7,"pct":46.7},{"state":"MI","cand":"Trump","day":22.7,"pct":44.0},{"state":"MI","cand":"Trump","day":25.7,"pct":42.1},{"state":"MI","cand":"Trump","day":27.7,"pct":47.1},{"state":"MI","cand":"Trump","day":32.6,"pct":39.2},{"state":"MI","cand":"Trump","day":35.6,"pct":42.1},{"state":"MI","cand":"Trump","day":38.6,"pct":46.2},{"state":"MI","cand":"Trump","day":41.1,"pct":40.0},{"state":"MI","cand":"Trump","day":43.5,"pct":46.2},{"state":"MI","cand":"Trump","day":47.5,"pct":49.1},{"state":"MI","cand":"Trump","day":48.0,"pct":46.7},{"state":"MI","cand":"Trump","day":49.0,"pct":39.2},{"state":"MI","cand":"Trump","day":50.5,"pct":41.9},{"state":"MI","cand":"Trump","day":55.0,"pct":44.0},{"state":"MI","cand":"Trump","day":56.4,"pct":40.0},{"state":"MI","cand":"Trump","day":57.4,"pct":49.1},{"state":"MI","cand":"Trump","day":59.4,"pct":46.0},{"state":"MI","cand":"Trump","day":59.4,"pct":40.9},{"state":"MI","cand":"Trump","day":50.0,"pct":40.0},
{"state":"NC","cand":"Biden","day":0.2,"pct":50.1},{"state":"NC","cand":"Biden","day":2.4,"pct":43.1},{"state":"NC","cand":"Biden","day":6.9,"pct":48.1},{"state":"NC","cand":"Biden","day":10.0,"pct":46.2},{"state":"NC","cand":"Biden","day":12.2,"pct":49.1},{"state":"NC","cand":"Biden","day":12.7,"pct":45.1},{"state":"NC","cand":"Biden","day":15.4,"pct":45.1},{"state":"NC","cand":"Biden","day":17.6,"pct":51.0},{"state":"NC","cand":"Biden","day":19.5,"pct":44.1},{"state":"NC","cand":"Biden","day":21.6,"pct":45.7},{"state":"NC","cand":"Biden","day":24.3,"pct":48.1},{"state":"NC","cand":"Biden","day":27.0,"pct":49.1},{"state":"NC","cand":"Biden","day":27.8,"pct":50.1},{"state":"NC","cand":"Biden","day":33.7,"pct":50.4},{"state":"NC","cand":"Biden","day":34.6,"pct":51.1},{"state":"NC","cand":"Biden","day":33.2,"pct":49.1},{"state":"NC","cand":"Biden","day":40.4,"pct":50.1},{"state":"NC","cand":"Biden","day":40.4,"pct":48.1},{"state":"NC","cand":"Biden","day":43.8,"pct":51.1},{"state":"NC","cand":"Biden","day":45.2,"pct":52.2},{"state":"NC","cand":"Biden","day":48.0,"pct":50.8},{"state":"NC","cand":"Biden","day":49.8,"pct":50.1},{"state":"NC","cand":"Biden","day":50.7,"pct":48.2},{"state":"NC","cand":"Biden","day":52.9,"pct":51.1},{"state":"NC","cand":"Biden","day":56.5,"pct":51.1},{"state":"NC","cand":"Biden","day":58.0,"pct":52.2},{"state":"NC","cand":"Biden","day":59.6,"pct":51.1},{"state":"NC","cand":"Biden","day":57.0,"pct":48.1},{"state":"NC","cand":"Biden","day":58.0,"pct":46.0},
{"state":"NC","cand":"Trump","day":-0.7,"pct":51.1},{"state":"NC","cand":"Trump","day":-2.1,"pct":48.9},{"state":"NC","cand":"Trump","day":0.2,"pct":46.2},{"state":"NC","cand":"Trump","day":2.4,"pct":44.1},{"state":"NC","cand":"Trump","day":7.3,"pct":48.9},{"state":"NC","cand":"Trump","day":10.5,"pct":47.7},{"state":"NC","cand":"Trump","day":12.7,"pct":43.1},{"state":"NC","cand":"Trump","day":15.0,"pct":45.1},{"state":"NC","cand":"Trump","day":15.4,"pct":44.1},{"state":"NC","cand":"Trump","day":17.6,"pct":49.2},{"state":"NC","cand":"Trump","day":19.5,"pct":45.1},{"state":"NC","cand":"Trump","day":20.7,"pct":46.2},{"state":"NC","cand":"Trump","day":25.2,"pct":46.2},{"state":"NC","cand":"Trump","day":27.0,"pct":47.0},{"state":"NC","cand":"Trump","day":32.8,"pct":47.0},{"state":"NC","cand":"Trump","day":35.0,"pct":44.1},{"state":"NC","cand":"Trump","day":35.5,"pct":47.2},{"state":"NC","cand":"Trump","day":41.2,"pct":45.1},{"state":"NC","cand":"Trump","day":42.9,"pct":42.1},{"state":"NC","cand":"Trump","day":45.3,"pct":47.0},{"state":"NC","cand":"Trump","day":48.0,"pct":44.1},{"state":"NC","cand":"Trump","day":49.8,"pct":43.8},{"state":"NC","cand":"Trump","day":53.2,"pct":47.2},{"state":"NC","cand":"Trump","day":56.0,"pct":48.1},{"state":"NC","cand":"Trump","day":57.2,"pct":45.1},{"state":"NC","cand":"Trump","day":58.3,"pct":48.1},{"state":"NC","cand":"Trump","day":60.1,"pct":45.1},{"state":"NC","cand":"Trump","day":54.2,"pct":47.2},
{"state":"OH","cand":"Biden","day":1.3,"pct":51.1},{"state":"OH","cand":"Biden","day":2.1,"pct":44.9},{"state":"OH","cand":"Biden","day":6.4,"pct":45.1},{"state":"OH","cand":"Biden","day":14.3,"pct":45.1},{"state":"OH","cand":"Biden","day":21.5,"pct":45.1},{"state":"OH","cand":"Biden","day":22.2,"pct":50.1},{"state":"OH","cand":"Biden","day":24.6,"pct":48.1},{"state":"OH","cand":"Biden","day":31.6,"pct":47.0},{"state":"OH","cand":"Biden","day":32.7,"pct":44.0},{"state":"OH","cand":"Biden","day":35.4,"pct":45.1},{"state":"OH","cand":"Biden","day":37.8,"pct":45.4},{"state":"OH","cand":"Biden","day":41.6,"pct":48.1},{"state":"OH","cand":"Biden","day":48.6,"pct":48.1},{"state":"OH","cand":"Biden","day":49.8,"pct":45.1},{"state":"OH","cand":"Biden","day":49.8,"pct":43.3},{"state":"OH","cand":"Biden","day":56.0,"pct":43.6},{"state":"OH","cand":"Biden","day":58.7,"pct":46.3},
{"state":"OH","cand":"Trump","day":-1.0,"pct":50.8},{"state":"OH","cand":"Trump","day":0.5,"pct":47.1},{"state":"OH","cand":"Trump","day":2.1,"pct":50.6},{"state":"OH","cand":"Trump","day":6.4,"pct":50.1},{"state":"OH","cand":"Trump","day":21.1,"pct":44.4},{"state":"OH","cand":"Trump","day":22.2,"pct":45.1},{"state":"OH","cand":"Trump","day":24.6,"pct":50.1},{"state":"OH","cand":"Trump","day":26.5,"pct":49.0},{"state":"OH","cand":"Trump","day":35.4,"pct":44.1},{"state":"OH","cand":"Trump","day":37.4,"pct":46.8},{"state":"OH","cand":"Trump","day":40.9,"pct":50.1},{"state":"OH","cand":"Trump","day":44.7,"pct":51.1},{"state":"OH","cand":"Trump","day":49.8,"pct":49.0},{"state":"OH","cand":"Trump","day":49.8,"pct":44.4},{"state":"OH","cand":"Trump","day":56.0,"pct":55.3},{"state":"OH","cand":"Trump","day":58.7,"pct":51.1},{"state":"OH","cand":"Trump","day":57.9,"pct":49.0},{"state":"OH","cand":"Trump","day":56.7,"pct":43.1},{"state":"OH","cand":"Trump","day":20.7,"pct":47.1},
{"state":"PA","cand":"Biden","day":-0.8,"pct":52.9},{"state":"PA","cand":"Biden","day":-0.8,"pct":51.3},{"state":"PA","cand":"Biden","day":-0.3,"pct":50.1},{"state":"PA","cand":"Biden","day":2.2,"pct":48.1},{"state":"PA","cand":"Biden","day":5.3,"pct":51.1},{"state":"PA","cand":"Biden","day":6.3,"pct":53.1},{"state":"PA","cand":"Biden","day":10.4,"pct":48.1},{"state":"PA","cand":"Biden","day":13.4,"pct":49.1},{"state":"PA","cand":"Biden","day":14.4,"pct":52.1},{"state":"PA","cand":"Biden","day":16.5,"pct":47.5},{"state":"PA","cand":"Biden","day":18.3,"pct":53.1},{"state":"PA","cand":"Biden","day":19.5,"pct":49.1},{"state":"PA","cand":"Biden","day":21.5,"pct":47.5},{"state":"PA","cand":"Biden","day":22.6,"pct":51.1},{"state":"PA","cand":"Biden","day":25.6,"pct":54.1},{"state":"PA","cand":"Biden","day":26.1,"pct":50.1},{"state":"PA","cand":"Biden","day":31.7,"pct":51.1},{"state":"PA","cand":"Biden","day":33.7,"pct":54.1},{"state":"PA","cand":"Biden","day":33.7,"pct":53.1},{"state":"PA","cand":"Biden","day":35.8,"pct":49.1},{"state":"PA","cand":"Biden","day":37.6,"pct":49.9},{"state":"PA","cand":"Biden","day":40.9,"pct":52.1},{"state":"PA","cand":"Biden","day":41.9,"pct":49.1},{"state":"PA","cand":"Biden","day":41.9,"pct":47.5},{"state":"PA","cand":"Biden","day":45.0,"pct":53.1},{"state":"PA","cand":"Biden","day":49.8,"pct":53.1},{"state":"PA","cand":"Biden","day":50.5,"pct":52.1},{"state":"PA","cand":"Biden","day":48.5,"pct":49.1},{"state":"PA","cand":"Biden","day":55.6,"pct":52.1},{"state":"PA","cand":"Biden","day":58.6,"pct":52.1},{"state":"PA","cand":"Biden","day":57.6,"pct":51.1},{"state":"PA","cand":"Biden","day":49.5,"pct":42.2},{"state":"PA","cand":"Biden","day":2.7,"pct":44.2},
{"state":"PA","cand":"Trump","day":-4.9,"pct":48.1},{"state":"PA","cand":"Trump","day":-0.8,"pct":47.1},{"state":"PA","cand":"Trump","day":-0.3,"pct":46.1},{"state":"PA","cand":"Trump","day":-0.3,"pct":45.1},{"state":"PA","cand":"Trump","day":2.7,"pct":43.2},{"state":"PA","cand":"Trump","day":3.8,"pct":42.0},{"state":"PA","cand":"Trump","day":5.3,"pct":46.1},{"state":"PA","cand":"Trump","day":7.8,"pct":46.1},{"state":"PA","cand":"Trump","day":10.9,"pct":43.2},{"state":"PA","cand":"Trump","day":13.4,"pct":44.2},{"state":"PA","cand":"Trump","day":15.4,"pct":46.1},{"state":"PA","cand":"Trump","day":17.5,"pct":45.1},{"state":"PA","cand":"Trump","day":19.0,"pct":42.0},{"state":"PA","cand":"Trump","day":26.6,"pct":40.0},{"state":"PA","cand":"Trump","day":23.6,"pct":44.2},{"state":"PA","cand":"Trump","day":31.2,"pct":42.0},{"state":"PA","cand":"Trump","day":33.7,"pct":46.1},{"state":"PA","cand":"Trump","day":33.7,"pct":43.2},{"state":"PA","cand":"Trump","day":34.8,"pct":41.0},{"state":"PA","cand":"Trump","day":34.8,"pct":47.5},{"state":"PA","cand":"Trump","day":35.8,"pct":42.0},{"state":"PA","cand":"Trump","day":38.8,"pct":46.1},{"state":"PA","cand":"Trump","day":42.3,"pct":43.0},{"state":"PA","cand":"Trump","day":44.9,"pct":46.5},{"state":"PA","cand":"Trump","day":48.5,"pct":47.1},{"state":"PA","cand":"Trump","day":49.5,"pct":43.2},{"state":"PA","cand":"Trump","day":50.0,"pct":38.7},{"state":"PA","cand":"Trump","day":51.0,"pct":46.1},{"state":"PA","cand":"Trump","day":54.6,"pct":48.4},{"state":"PA","cand":"Trump","day":58.6,"pct":46.1},{"state":"PA","cand":"Trump","day":55.1,"pct":44.2}
]
},
"concat":[
{"width":342,"height":480,"data":{"name":"summary"},"transform":[{"filter":"datum.st=='AZ'"}],"layer":[
{"data":{"values":[{"g":30},{"g":40},{"g":50},{"g":60}]},"mark":{"type":"rule","color":"#e2e2e2"},"encoding":{"x":{"datum":-6.1,"type":"quantitative","scale":{"domain":[-9.17,95.41],"zero":false,"nice":false}},"x2":{"datum":57.5},"y":{"field":"g","type":"quantitative","scale":{"domain":[24.6,72.6],"zero":false,"nice":false}}}},
{"mark":{"type":"rule","color":"#e2e2e2"},"encoding":{"x":{"datum":-6.1,"type":"quantitative","scale":{"domain":[-9.17,95.41],"zero":false,"nice":false}},"x2":{"datum":45.3},"y":{"datum":70,"type":"quantitative","scale":{"domain":[24.6,72.6],"zero":false,"nice":false}}}},
{"data":{"values":[{"d":0,"t":"SEPT."},{"d":30,"t":"OCT."}]},"mark":{"type":"rule","color":"#e2e2e2"},"encoding":{"x":{"field":"d","type":"quantitative","scale":{"domain":[-9.17,95.41],"zero":false,"nice":false}},"y":{"datum":70.6,"type":"quantitative","scale":{"domain":[24.6,72.6],"zero":false,"nice":false}},"y2":{"datum":27.1}}},
{"data":{"values":[{"d":0,"t":"SEPT."},{"d":30,"t":"OCT."}]},"mark":{"type":"text","font":"Roboto","fontSize":12,"color":"#aaaaaa","baseline":"middle"},"encoding":{"x":{"field":"d","type":"quantitative","scale":{"domain":[-9.17,95.41],"zero":false,"nice":false}},"y":{"datum":26.0,"type":"quantitative","scale":{"domain":[24.6,72.6],"zero":false,"nice":false}},"text":{"field":"t"}}},
{"mark":{"type":"rule","color":"#777777","strokeDash":[2,2]},"encoding":{"x":{"datum":60,"type":"quantitative","scale":{"domain":[-9.17,95.41],"zero":false,"nice":false}},"y":{"datum":64.2,"type":"quantitative","scale":{"domain":[24.6,72.6],"zero":false,"nice":false}},"y2":{"datum":24.6}}},
{"data":{"name":"polls"},"transform":[{"filter":"datum.state=='AZ'"}],"mark":{"type":"circle","size":55,"opacity":0.28},"encoding":{"x":{"field":"day","type":"quantitative","scale":{"domain":[-9.17,95.41],"zero":false,"nice":false}},"y":{"field":"pct","type":"quantitative","scale":{"domain":[24.6,72.6],"zero":false,"nice":false}},"color":{"field":"cand","type":"nominal","scale":{"domain":["Biden","Trump"],"range":["#4b65ad","#e1524b"]},"legend":null}}},
{"data":{"name":"avg"},"transform":[{"filter":"datum.state=='AZ'"}],"mark":{"type":"line","strokeWidth":2.5},"encoding":{"x":{"field":"day","type":"quantitative","scale":{"domain":[-9.17,95.41],"zero":false,"nice":false}},"y":{"field":"pct","type":"quantitative","scale":{"domain":[24.6,72.6],"zero":false,"nice":false}},"color":{"field":"cand","type":"nominal","scale":{"domain":["Biden","Trump"],"range":["#4b65ad","#e1524b"]},"legend":null}}},
{"mark":{"type":"text","font":"Roboto","fontWeight":"bold","fontSize":15,"align":"left","baseline":"middle","dx":3,"dy":-3,"color":"#5a72b6"},"encoding":{"x":{"datum":60,"type":"quantitative","scale":{"domain":[-9.17,95.41],"zero":false,"nice":false}},"y":{"field":"biden","type":"quantitative","scale":{"domain":[24.6,72.6],"zero":false,"nice":false}},"text":{"field":"bl"}}},
{"mark":{"type":"text","font":"Roboto","fontWeight":"bold","fontSize":15,"align":"left","baseline":"middle","dx":3,"dy":-2,"color":"#e4564d"},"encoding":{"x":{"datum":60,"type":"quantitative","scale":{"domain":[-9.17,95.41],"zero":false,"nice":false}},"y":{"field":"trump","type":"quantitative","scale":{"domain":[24.6,72.6],"zero":false,"nice":false}},"text":{"field":"tl"}}},
{"mark":{"type":"rect","color":"#ffff00"},"encoding":{"x":{"datum":-6.73,"type":"quantitative","scale":{"domain":[-9.17,95.41],"zero":false,"nice":false}},"x2":{"datum":29.97},"y":{"datum":66.4,"type":"quantitative","scale":{"domain":[24.6,72.6],"zero":false,"nice":false}},"y2":{"datum":71.8}}},
{"mark":{"type":"text","font":"Lato","fontWeight":"bold","fontSize":29,"color":"#000000","baseline":"middle"},"encoding":{"x":{"datum":11.6,"type":"quantitative","scale":{"domain":[-9.17,95.41],"zero":false,"nice":false}},"y":{"datum":69.1,"type":"quantitative","scale":{"domain":[24.6,72.6],"zero":false,"nice":false}},"text":{"field":"name"}}},
{"mark":{"type":"rect","color":"#4472c4","stroke":"#2f528f","strokeWidth":1},"encoding":{"x":{"datum":-6.73,"type":"quantitative","scale":{"domain":[-9.17,95.41],"zero":false,"nice":false}},"x2":{"datum":25.38},"y":{"datum":60.2,"type":"quantitative","scale":{"domain":[24.6,72.6],"zero":false,"nice":false}},"y2":{"datum":66.3}}},
{"mark":{"type":"text","font":"Lato","fontSize":24,"color":"#ffffff","baseline":"middle"},"encoding":{"x":{"datum":9.17,"type":"quantitative","scale":{"domain":[-9.17,95.41],"zero":false,"nice":false}},"y":{"datum":63.2,"type":"quantitative","scale":{"domain":[24.6,72.6],"zero":false,"nice":false}},"text":{"field":"change"}}},
{"mark":{"type":"text","font":"Roboto","fontWeight":"bold","fontSize":12,"color":"#333333","baseline":"middle"},"encoding":{"x":{"datum":60,"type":"quantitative","scale":{"domain":[-9.17,95.41],"zero":false,"nice":false}},"y":{"datum":70.1,"type":"quantitative","scale":{"domain":[24.6,72.6],"zero":false,"nice":false}},"text":{"value":"OCT. 31 LEADER"}}},
{"mark":{"type":"text","font":"Roboto","fontSize":16,"color":"#555555","baseline":"middle"},"encoding":{"x":{"datum":60,"type":"quantitative","scale":{"domain":[-9.17,95.41],"zero":false,"nice":false}},"y":{"datum":67.8,"type":"quantitative","scale":{"domain":[24.6,72.6],"zero":false,"nice":false}},"text":{"field":"leader"}}},
{"mark":{"type":"rect","color":"#e1e5ef","stroke":"#8193bd","strokeWidth":1.2,"cornerRadius":5},"encoding":{"x":{"datum":50.8,"type":"quantitative","scale":{"domain":[-9.17,95.41],"zero":false,"nice":false}},"x2":{"datum":69.4},"y":{"datum":64.2,"type":"quantitative","scale":{"domain":[24.6,72.6],"zero":false,"nice":false}},"y2":{"datum":66.2}}},
{"mark":{"type":"text","font":"DejaVu Sans Mono","fontSize":14,"color":"#333333","baseline":"middle"},"encoding":{"x":{"datum":60,"type":"quantitative","scale":{"domain":[-9.17,95.41],"zero":false,"nice":false}},"y":{"datum":65.2,"type":"quantitative","scale":{"domain":[24.6,72.6],"zero":false,"nice":false}},"text":{"field":"margin"}}},
{"mark":{"type":"rule","color":"#111111","strokeWidth":2.5,"yOffset":5},"encoding":{"x":{"datum":-7.64,"type":"quantitative","scale":{"domain":[-9.17,95.41],"zero":false,"nice":false}},"x2":{"datum":95.41},"y":{"datum":72.6,"type":"quantitative","scale":{"domain":[24.6,72.6],"zero":false,"nice":false}}}},
{"mark":{"type":"rule","color":"#111111","strokeWidth":2.5,"xOffset":5},"encoding":{"x":{"datum":-9.17,"type":"quantitative","scale":{"domain":[-9.17,95.41],"zero":false,"nice":false}},"y":{"datum":24.6,"type":"quantitative","scale":{"domain":[24.6,72.6],"zero":false,"nice":false}},"y2":{"datum":72.2}}}
]},
{"width":411,"height":480,"data":{"name":"summary"},"transform":[{"filter":"datum.st=='FL'"}],"layer":[
{"data":{"values":[{"g":30},{"g":40},{"g":50},{"g":60}]},"mark":{"type":"rule","color":"#e2e2e2"},"encoding":{"x":{"datum":-8.9,"type":"quantitative","scale":{"domain":[-7.94,94.04],"zero":false,"nice":false}},"x2":{"datum":57.3},"y":{"field":"g","type":"quantitative","scale":{"domain":[24.36,71.88],"zero":false,"nice":false}}}},
{"mark":{"type":"rule","color":"#e2e2e2"},"encoding":{"x":{"datum":-8.9,"type":"quantitative","scale":{"domain":[-7.94,94.04],"zero":false,"nice":false}},"x2":{"datum":44.9},"y":{"datum":70,"type":"quantitative","scale":{"domain":[24.36,71.88],"zero":false,"nice":false}}}},
{"data":{"values":[{"d":0,"t":"SEPT."},{"d":30,"t":"OCT."}]},"mark":{"type":"rule","color":"#e2e2e2"},"encoding":{"x":{"field":"d","type":"quantitative","scale":{"domain":[-7.94,94.04],"zero":false,"nice":false}},"y":{"datum":71,"type":"quantitative","scale":{"domain":[24.36,71.88],"zero":false,"nice":false}},"y2":{"datum":26.8}}},
{"data":{"values":[{"d":0,"t":"SEPT."},{"d":30,"t":"OCT."}]},"mark":{"type":"text","font":"Roboto","fontSize":14,"color":"#aaaaaa","baseline":"middle"},"encoding":{"x":{"field":"d","type":"quantitative","scale":{"domain":[-7.94,94.04],"zero":false,"nice":false}},"y":{"datum":25.64,"type":"quantitative","scale":{"domain":[24.36,71.88],"zero":false,"nice":false}},"text":{"field":"t"}}},
{"mark":{"type":"rule","color":"#777777","strokeDash":[2,2]},"encoding":{"x":{"datum":60,"type":"quantitative","scale":{"domain":[-7.94,94.04],"zero":false,"nice":false}},"y":{"datum":64.06,"type":"quantitative","scale":{"domain":[24.36,71.88],"zero":false,"nice":false}},"y2":{"datum":24.36}}},
{"data":{"name":"polls"},"transform":[{"filter":"datum.state=='FL'"}],"mark":{"type":"circle","size":70,"opacity":0.28},"encoding":{"x":{"field":"day","type":"quantitative","scale":{"domain":[-7.94,94.04],"zero":false,"nice":false}},"y":{"field":"pct","type":"quantitative","scale":{"domain":[24.36,71.88],"zero":false,"nice":false}},"color":{"field":"cand","type":"nominal","scale":{"domain":["Biden","Trump"],"range":["#4b65ad","#e1524b"]},"legend":null}}},
{"data":{"name":"avg"},"transform":[{"filter":"datum.state=='FL'"}],"mark":{"type":"line","strokeWidth":2.8},"encoding":{"x":{"field":"day","type":"quantitative","scale":{"domain":[-7.94,94.04],"zero":false,"nice":false}},"y":{"field":"pct","type":"quantitative","scale":{"domain":[24.36,71.88],"zero":false,"nice":false}},"color":{"field":"cand","type":"nominal","scale":{"domain":["Biden","Trump"],"range":["#4b65ad","#e1524b"]},"legend":null}}},
{"mark":{"type":"text","font":"Roboto","fontWeight":"bold","fontSize":18.5,"align":"left","baseline":"middle","dx":3,"dy":-4,"color":"#5a72b6"},"encoding":{"x":{"datum":60,"type":"quantitative","scale":{"domain":[-7.94,94.04],"zero":false,"nice":false}},"y":{"field":"biden","type":"quantitative","scale":{"domain":[24.36,71.88],"zero":false,"nice":false}},"text":{"field":"bl"}}},
{"mark":{"type":"text","font":"Roboto","fontWeight":"bold","fontSize":18.5,"align":"left","baseline":"middle","dx":3,"dy":-3,"color":"#e4564d"},"encoding":{"x":{"datum":60,"type":"quantitative","scale":{"domain":[-7.94,94.04],"zero":false,"nice":false}},"y":{"field":"trump","type":"quantitative","scale":{"domain":[24.36,71.88],"zero":false,"nice":false}},"text":{"field":"tl"}}},
{"mark":{"type":"rect","color":"#ffff00"},"encoding":{"x":{"datum":6.7,"type":"quantitative","scale":{"domain":[-7.94,94.04],"zero":false,"nice":false}},"x2":{"datum":34.74},"y":{"datum":65.74,"type":"quantitative","scale":{"domain":[24.36,71.88],"zero":false,"nice":false}},"y2":{"datum":71.09}}},
{"mark":{"type":"text","font":"Lato","fontWeight":"bold","fontSize":29,"color":"#000000","baseline":"middle"},"encoding":{"x":{"datum":20.6,"type":"quantitative","scale":{"domain":[-7.94,94.04],"zero":false,"nice":false}},"y":{"datum":68.5,"type":"quantitative","scale":{"domain":[24.36,71.88],"zero":false,"nice":false}},"text":{"field":"name"}}},
{"mark":{"type":"rect","color":"#4472c4","stroke":"#2f528f","strokeWidth":1},"encoding":{"x":{"datum":7.44,"type":"quantitative","scale":{"domain":[-7.94,94.04],"zero":false,"nice":false}},"x2":{"datum":34.24},"y":{"datum":59.5,"type":"quantitative","scale":{"domain":[24.36,71.88],"zero":false,"nice":false}},"y2":{"datum":65.54}}},
{"mark":{"type":"text","font":"Lato","fontSize":24,"color":"#ffffff","baseline":"middle"},"encoding":{"x":{"datum":20.84,"type":"quantitative","scale":{"domain":[-7.94,94.04],"zero":false,"nice":false}},"y":{"datum":62.48,"type":"quantitative","scale":{"domain":[24.36,71.88],"zero":false,"nice":false}},"text":{"field":"change"}}},
{"mark":{"type":"text","font":"Roboto","fontWeight":"bold","fontSize":15,"color":"#333333","baseline":"middle"},"encoding":{"x":{"datum":60,"type":"quantitative","scale":{"domain":[-7.94,94.04],"zero":false,"nice":false}},"y":{"datum":70.1,"type":"quantitative","scale":{"domain":[24.36,71.88],"zero":false,"nice":false}},"text":{"value":"OCT. 31 LEADER"}}},
{"mark":{"type":"text","font":"Roboto","fontSize":20,"color":"#555555","baseline":"middle"},"encoding":{"x":{"datum":60,"type":"quantitative","scale":{"domain":[-7.94,94.04],"zero":false,"nice":false}},"y":{"datum":67.82,"type":"quantitative","scale":{"domain":[24.36,71.88],"zero":false,"nice":false}},"text":{"field":"leader"}}},
{"mark":{"type":"rect","color":"#e1e5ef","stroke":"#8193bd","strokeWidth":1.2,"cornerRadius":5},"encoding":{"x":{"datum":50.37,"type":"quantitative","scale":{"domain":[-7.94,94.04],"zero":false,"nice":false}},"x2":{"datum":69.23},"y":{"datum":64.06,"type":"quantitative","scale":{"domain":[24.36,71.88],"zero":false,"nice":false}},"y2":{"datum":66.14}}},
{"mark":{"type":"text","font":"DejaVu Sans Mono","fontSize":16,"color":"#333333","baseline":"middle"},"encoding":{"x":{"datum":60,"type":"quantitative","scale":{"domain":[-7.94,94.04],"zero":false,"nice":false}},"y":{"datum":65.1,"type":"quantitative","scale":{"domain":[24.36,71.88],"zero":false,"nice":false}},"text":{"field":"margin"}}},
{"mark":{"type":"rule","color":"#111111","strokeWidth":2.5,"yOffset":5},"encoding":{"x":{"datum":-7.94,"type":"quantitative","scale":{"domain":[-7.94,94.04],"zero":false,"nice":false}},"x2":{"datum":94.04},"y":{"datum":71.88,"type":"quantitative","scale":{"domain":[24.36,71.88],"zero":false,"nice":false}}}}
]},
{"width":372,"height":480,"data":{"name":"summary"},"transform":[{"filter":"datum.st=='GA'"}],"layer":[
{"data":{"values":[{"g":30},{"g":40},{"g":50},{"g":60}]},"mark":{"type":"rule","color":"#e2e2e2"},"encoding":{"x":{"datum":-7.88,"type":"quantitative","scale":{"domain":[-10.61,102.12],"zero":false,"nice":false}},"x2":{"datum":57.27},"y":{"field":"g","type":"quantitative","scale":{"domain":[26.89,73.5],"zero":false,"nice":false}}}},
{"mark":{"type":"rule","color":"#e2e2e2"},"encoding":{"x":{"datum":-7.88,"type":"quantitative","scale":{"domain":[-10.61,102.12],"zero":false,"nice":false}},"x2":{"datum":44.5},"y":{"datum":70,"type":"quantitative","scale":{"domain":[26.89,73.5],"zero":false,"nice":false}}}},
{"data":{"values":[{"d":0,"t":"SEPT."},{"d":30,"t":"OCT."}]},"mark":{"type":"rule","color":"#e2e2e2"},"encoding":{"x":{"field":"d","type":"quantitative","scale":{"domain":[-10.61,102.12],"zero":false,"nice":false}},"y":{"datum":70,"type":"quantitative","scale":{"domain":[26.89,73.5],"zero":false,"nice":false}},"y2":{"datum":29.03}}},
{"data":{"values":[{"d":0,"t":"SEPT."},{"d":30,"t":"OCT."}]},"mark":{"type":"text","font":"Roboto","fontSize":12,"color":"#aaaaaa","baseline":"middle"},"encoding":{"x":{"field":"d","type":"quantitative","scale":{"domain":[-10.61,102.12],"zero":false,"nice":false}},"y":{"datum":27.77,"type":"quantitative","scale":{"domain":[26.89,73.5],"zero":false,"nice":false}},"text":{"field":"t"}}},
{"mark":{"type":"rule","color":"#777777","strokeDash":[2,2]},"encoding":{"x":{"datum":60,"type":"quantitative","scale":{"domain":[-10.61,102.12],"zero":false,"nice":false}},"y":{"datum":64.17,"type":"quantitative","scale":{"domain":[26.89,73.5],"zero":false,"nice":false}},"y2":{"datum":26.89}}},
{"data":{"name":"polls"},"transform":[{"filter":"datum.state=='GA'"}],"mark":{"type":"circle","size":55,"opacity":0.28},"encoding":{"x":{"field":"day","type":"quantitative","scale":{"domain":[-10.61,102.12],"zero":false,"nice":false}},"y":{"field":"pct","type":"quantitative","scale":{"domain":[26.89,73.5],"zero":false,"nice":false}},"color":{"field":"cand","type":"nominal","scale":{"domain":["Biden","Trump"],"range":["#4b65ad","#e1524b"]},"legend":null}}},
{"data":{"name":"avg"},"transform":[{"filter":"datum.state=='GA'"}],"mark":{"type":"line","strokeWidth":2.5},"encoding":{"x":{"field":"day","type":"quantitative","scale":{"domain":[-10.61,102.12],"zero":false,"nice":false}},"y":{"field":"pct","type":"quantitative","scale":{"domain":[26.89,73.5],"zero":false,"nice":false}},"color":{"field":"cand","type":"nominal","scale":{"domain":["Biden","Trump"],"range":["#4b65ad","#e1524b"]},"legend":null}}},
{"mark":{"type":"text","font":"Roboto","fontWeight":"bold","fontSize":15,"align":"left","baseline":"middle","dx":3,"dy":-5,"color":"#5a72b6"},"encoding":{"x":{"datum":60,"type":"quantitative","scale":{"domain":[-10.61,102.12],"zero":false,"nice":false}},"y":{"field":"biden","type":"quantitative","scale":{"domain":[26.89,73.5],"zero":false,"nice":false}},"text":{"field":"bl"}}},
{"mark":{"type":"text","font":"Roboto","fontWeight":"bold","fontSize":15,"align":"left","baseline":"middle","dx":3,"dy":0,"color":"#e4564d"},"encoding":{"x":{"datum":60,"type":"quantitative","scale":{"domain":[-10.61,102.12],"zero":false,"nice":false}},"y":{"field":"trump","type":"quantitative","scale":{"domain":[26.89,73.5],"zero":false,"nice":false}},"text":{"field":"tl"}}},
{"mark":{"type":"rect","color":"#ffff00"},"encoding":{"x":{"datum":-7.88,"type":"quantitative","scale":{"domain":[-10.61,102.12],"zero":false,"nice":false}},"x2":{"datum":30.61},"y":{"datum":67.38,"type":"quantitative","scale":{"domain":[26.89,73.5],"zero":false,"nice":false}},"y2":{"datum":72.72}}},
{"mark":{"type":"text","font":"Lato","fontWeight":"bold","fontSize":29,"color":"#000000","baseline":"middle"},"encoding":{"x":{"datum":11.2,"type":"quantitative","scale":{"domain":[-10.61,102.12],"zero":false,"nice":false}},"y":{"datum":69.9,"type":"quantitative","scale":{"domain":[26.89,73.5],"zero":false,"nice":false}},"text":{"field":"name"}}},
{"mark":{"type":"rect","color":"#4472c4","stroke":"#2f528f","strokeWidth":1},"encoding":{"x":{"datum":-7.88,"type":"quantitative","scale":{"domain":[-10.61,102.12],"zero":false,"nice":false}},"x2":{"datum":24.85},"y":{"datum":61.36,"type":"quantitative","scale":{"domain":[26.89,73.5],"zero":false,"nice":false}},"y2":{"datum":67.28}}},
{"mark":{"type":"text","font":"Lato","fontSize":24,"color":"#ffffff","baseline":"middle"},"encoding":{"x":{"datum":8.48,"type":"quantitative","scale":{"domain":[-10.61,102.12],"zero":false,"nice":false}},"y":{"datum":64.27,"type":"quantitative","scale":{"domain":[26.89,73.5],"zero":false,"nice":false}},"text":{"field":"change"}}},
{"mark":{"type":"text","font":"Roboto","fontWeight":"bold","fontSize":12,"color":"#333333","baseline":"middle"},"encoding":{"x":{"datum":60,"type":"quantitative","scale":{"domain":[-10.61,102.12],"zero":false,"nice":false}},"y":{"datum":70,"type":"quantitative","scale":{"domain":[26.89,73.5],"zero":false,"nice":false}},"text":{"value":"OCT. 31 LEADER"}}},
{"mark":{"type":"text","font":"Roboto","fontSize":16,"color":"#555555","baseline":"middle"},"encoding":{"x":{"datum":60,"type":"quantitative","scale":{"domain":[-10.61,102.12],"zero":false,"nice":false}},"y":{"datum":67.77,"type":"quantitative","scale":{"domain":[26.89,73.5],"zero":false,"nice":false}},"text":{"field":"leader"}}},
{"mark":{"type":"rect","color":"#e1e5ef","stroke":"#8193bd","strokeWidth":1.2,"cornerRadius":5},"encoding":{"x":{"datum":50.3,"type":"quantitative","scale":{"domain":[-10.61,102.12],"zero":false,"nice":false}},"x2":{"datum":69.4},"y":{"datum":64.17,"type":"quantitative","scale":{"domain":[26.89,73.5],"zero":false,"nice":false}},"y2":{"datum":66.31}}},
{"mark":{"type":"text","font":"DejaVu Sans Mono","fontSize":14,"color":"#333333","baseline":"middle"},"encoding":{"x":{"datum":60,"type":"quantitative","scale":{"domain":[-10.61,102.12],"zero":false,"nice":false}},"y":{"datum":65.24,"type":"quantitative","scale":{"domain":[26.89,73.5],"zero":false,"nice":false}},"text":{"field":"margin"}}},
{"mark":{"type":"rule","color":"#111111","strokeWidth":2.5,"yOffset":5},"encoding":{"x":{"datum":-10.61,"type":"quantitative","scale":{"domain":[-10.61,102.12],"zero":false,"nice":false}},"x2":{"datum":102.12},"y":{"datum":73.5,"type":"quantitative","scale":{"domain":[26.89,73.5],"zero":false,"nice":false}}}}
]},
{"width":397,"height":480,"data":{"name":"summary"},"transform":[{"filter":"datum.st=='IA'"}],"layer":[
{"data":{"values":[{"g":30},{"g":40},{"g":50},{"g":60}]},"mark":{"type":"rule","color":"#e2e2e2"},"encoding":{"x":{"datum":-5.43,"type":"quantitative","scale":{"domain":[-3.95,94.07],"zero":false,"nice":false}},"x2":{"datum":57.5},"y":{"field":"g","type":"quantitative","scale":{"domain":[26.89,73.5],"zero":false,"nice":false}}}},
{"mark":{"type":"rule","color":"#e2e2e2"},"encoding":{"x":{"datum":-5.43,"type":"quantitative","scale":{"domain":[-3.95,94.07],"zero":false,"nice":false}},"x2":{"datum":45.4},"y":{"datum":70,"type":"quantitative","scale":{"domain":[26.89,73.5],"zero":false,"nice":false}}}},
{"data":{"values":[{"d":0,"t":"SEPT."},{"d":30,"t":"OCT."}]},"mark":{"type":"rule","color":"#e2e2e2"},"encoding":{"x":{"field":"d","type":"quantitative","scale":{"domain":[-3.95,94.07],"zero":false,"nice":false}},"y":{"datum":70.6,"type":"quantitative","scale":{"domain":[26.89,73.5],"zero":false,"nice":false}},"y2":{"datum":29.3}}},
{"data":{"values":[{"d":0,"t":"SEPT."},{"d":30,"t":"OCT."}]},"mark":{"type":"text","font":"Roboto","fontSize":14,"color":"#aaaaaa","baseline":"middle"},"encoding":{"x":{"field":"d","type":"quantitative","scale":{"domain":[-3.95,94.07],"zero":false,"nice":false}},"y":{"datum":27.77,"type":"quantitative","scale":{"domain":[26.89,73.5],"zero":false,"nice":false}},"text":{"field":"t"}}},
{"mark":{"type":"rule","color":"#777777","strokeDash":[2,2]},"encoding":{"x":{"datum":60,"type":"quantitative","scale":{"domain":[-3.95,94.07],"zero":false,"nice":false}},"y":{"datum":64.27,"type":"quantitative","scale":{"domain":[26.89,73.5],"zero":false,"nice":false}},"y2":{"datum":26.89}}},
{"data":{"name":"polls"},"transform":[{"filter":"datum.state=='IA'"}],"mark":{"type":"circle","size":70,"opacity":0.28},"encoding":{"x":{"field":"day","type":"quantitative","scale":{"domain":[-3.95,94.07],"zero":false,"nice":false}},"y":{"field":"pct","type":"quantitative","scale":{"domain":[26.89,73.5],"zero":false,"nice":false}},"color":{"field":"cand","type":"nominal","scale":{"domain":["Biden","Trump"],"range":["#4b65ad","#e1524b"]},"legend":null}}},
{"data":{"name":"avg"},"transform":[{"filter":"datum.state=='IA'"}],"mark":{"type":"line","strokeWidth":2.8},"encoding":{"x":{"field":"day","type":"quantitative","scale":{"domain":[-3.95,94.07],"zero":false,"nice":false}},"y":{"field":"pct","type":"quantitative","scale":{"domain":[26.89,73.5],"zero":false,"nice":false}},"color":{"field":"cand","type":"nominal","scale":{"domain":["Biden","Trump"],"range":["#4b65ad","#e1524b"]},"legend":null}}},
{"mark":{"type":"text","font":"Roboto","fontWeight":"bold","fontSize":18.5,"align":"left","baseline":"middle","dx":3,"dy":0,"color":"#5a72b6"},"encoding":{"x":{"datum":60,"type":"quantitative","scale":{"domain":[-3.95,94.07],"zero":false,"nice":false}},"y":{"field":"biden","type":"quantitative","scale":{"domain":[26.89,73.5],"zero":false,"nice":false}},"text":{"field":"bl"}}},
{"mark":{"type":"text","font":"Roboto","fontWeight":"bold","fontSize":18.5,"align":"left","baseline":"middle","dx":3,"dy":-5,"color":"#e4564d"},"encoding":{"x":{"datum":60,"type":"quantitative","scale":{"domain":[-3.95,94.07],"zero":false,"nice":false}},"y":{"field":"trump","type":"quantitative","scale":{"domain":[26.89,73.5],"zero":false,"nice":false}},"text":{"field":"tl"}}},
{"mark":{"type":"rect","color":"#ffff00"},"encoding":{"x":{"datum":-0.49,"type":"quantitative","scale":{"domain":[-3.95,94.07],"zero":false,"nice":false}},"x2":{"datum":20.99},"y":{"datum":67.48,"type":"quantitative","scale":{"domain":[26.89,73.5],"zero":false,"nice":false}},"y2":{"datum":72.72}}},
{"mark":{"type":"text","font":"Lato","fontWeight":"bold","fontSize":29,"color":"#000000","baseline":"middle"},"encoding":{"x":{"datum":10.12,"type":"quantitative","scale":{"domain":[-3.95,94.07],"zero":false,"nice":false}},"y":{"datum":70,"type":"quantitative","scale":{"domain":[26.89,73.5],"zero":false,"nice":false}},"text":{"field":"name"}}},
{"mark":{"type":"rect","color":"#ff0000","stroke":"#8b1a1a","strokeWidth":1},"encoding":{"x":{"datum":-0.49,"type":"quantitative","scale":{"domain":[-3.95,94.07],"zero":false,"nice":false}},"x2":{"datum":26.17},"y":{"datum":61.36,"type":"quantitative","scale":{"domain":[26.89,73.5],"zero":false,"nice":false}},"y2":{"datum":67.28}}},
{"mark":{"type":"text","font":"Lato","fontSize":24,"color":"#ffffff","baseline":"middle"},"encoding":{"x":{"datum":12.84,"type":"quantitative","scale":{"domain":[-3.95,94.07],"zero":false,"nice":false}},"y":{"datum":64.27,"type":"quantitative","scale":{"domain":[26.89,73.5],"zero":false,"nice":false}},"text":{"field":"change"}}},
{"mark":{"type":"text","font":"Roboto","fontWeight":"bold","fontSize":15,"color":"#333333","baseline":"middle"},"encoding":{"x":{"datum":60,"type":"quantitative","scale":{"domain":[-3.95,94.07],"zero":false,"nice":false}},"y":{"datum":70.1,"type":"quantitative","scale":{"domain":[26.89,73.5],"zero":false,"nice":false}},"text":{"value":"OCT. 31 LEADER"}}},
{"mark":{"type":"text","font":"Roboto","fontSize":20,"color":"#555555","baseline":"middle"},"encoding":{"x":{"datum":60,"type":"quantitative","scale":{"domain":[-3.95,94.07],"zero":false,"nice":false}},"y":{"datum":67.86,"type":"quantitative","scale":{"domain":[26.89,73.5],"zero":false,"nice":false}},"text":{"field":"leader"}}},
{"mark":{"type":"rect","color":"#fbdede","stroke":"#e08a8a","strokeWidth":1.2,"cornerRadius":5},"encoding":{"x":{"datum":50.62,"type":"quantitative","scale":{"domain":[-3.95,94.07],"zero":false,"nice":false}},"x2":{"datum":69.63},"y":{"datum":64.27,"type":"quantitative","scale":{"domain":[26.89,73.5],"zero":false,"nice":false}},"y2":{"datum":66.31}}},
{"mark":{"type":"text","font":"DejaVu Sans Mono","fontSize":16,"color":"#333333","baseline":"middle"},"encoding":{"x":{"datum":60,"type":"quantitative","scale":{"domain":[-3.95,94.07],"zero":false,"nice":false}},"y":{"datum":65.29,"type":"quantitative","scale":{"domain":[26.89,73.5],"zero":false,"nice":false}},"text":{"field":"margin"}}},
{"mark":{"type":"rule","color":"#111111","strokeWidth":2.5,"yOffset":5},"encoding":{"x":{"datum":-3.95,"type":"quantitative","scale":{"domain":[-3.95,94.07],"zero":false,"nice":false}},"x2":{"datum":93.33},"y":{"datum":73.5,"type":"quantitative","scale":{"domain":[26.89,73.5],"zero":false,"nice":false}}}},
{"mark":{"type":"rule","color":"#111111","strokeWidth":2.5,"xOffset":-3},"encoding":{"x":{"datum":94.07,"type":"quantitative","scale":{"domain":[-3.95,94.07],"zero":false,"nice":false}},"y":{"datum":26.89,"type":"quantitative","scale":{"domain":[26.89,73.5],"zero":false,"nice":false}},"y2":{"datum":73.0}}}
]},
{"width":342,"height":474,"data":{"name":"summary"},"transform":[{"filter":"datum.st=='MI'"}],"layer":[
{"data":{"values":[{"g":30},{"g":40},{"g":50},{"g":60}]},"mark":{"type":"rule","color":"#e2e2e2"},"encoding":{"x":{"datum":-5.65,"type":"quantitative","scale":{"domain":[-8.04,93.75],"zero":false,"nice":false}},"x2":{"datum":57.44},"y":{"field":"g","type":"quantitative","scale":{"domain":[17.79,72.91],"zero":false,"nice":false}}}},
{"mark":{"type":"rule","color":"#e2e2e2"},"encoding":{"x":{"datum":-5.65,"type":"quantitative","scale":{"domain":[-8.04,93.75],"zero":false,"nice":false}},"x2":{"datum":44.9},"y":{"datum":70,"type":"quantitative","scale":{"domain":[17.79,72.91],"zero":false,"nice":false}}}},
{"data":{"values":[{"d":0,"t":"SEPT."},{"d":30,"t":"OCT."}]},"mark":{"type":"rule","color":"#e2e2e2"},"encoding":{"x":{"field":"d","type":"quantitative","scale":{"domain":[-8.04,93.75],"zero":false,"nice":false}},"y":{"datum":70,"type":"quantitative","scale":{"domain":[17.79,72.91],"zero":false,"nice":false}},"y2":{"datum":22.09}}},
{"data":{"values":[{"d":0,"t":"SEPT."},{"d":30,"t":"OCT."}]},"mark":{"type":"text","font":"Roboto","fontSize":12,"color":"#aaaaaa","baseline":"middle"},"encoding":{"x":{"field":"d","type":"quantitative","scale":{"domain":[-8.04,93.75],"zero":false,"nice":false}},"y":{"datum":20.35,"type":"quantitative","scale":{"domain":[17.79,72.91],"zero":false,"nice":false}},"text":{"field":"t"}}},
{"mark":{"type":"rule","color":"#777777","strokeDash":[2,2]},"encoding":{"x":{"datum":60,"type":"quantitative","scale":{"domain":[-8.04,93.75],"zero":false,"nice":false}},"y":{"datum":63.26,"type":"quantitative","scale":{"domain":[17.79,72.91],"zero":false,"nice":false}},"y2":{"datum":17.79}}},
{"data":{"name":"polls"},"transform":[{"filter":"datum.state=='MI'"}],"mark":{"type":"circle","size":55,"opacity":0.28},"encoding":{"x":{"field":"day","type":"quantitative","scale":{"domain":[-8.04,93.75],"zero":false,"nice":false}},"y":{"field":"pct","type":"quantitative","scale":{"domain":[17.79,72.91],"zero":false,"nice":false}},"color":{"field":"cand","type":"nominal","scale":{"domain":["Biden","Trump"],"range":["#4b65ad","#e1524b"]},"legend":null}}},
{"data":{"name":"avg"},"transform":[{"filter":"datum.state=='MI'"}],"mark":{"type":"line","strokeWidth":2.5},"encoding":{"x":{"field":"day","type":"quantitative","scale":{"domain":[-8.04,93.75],"zero":false,"nice":false}},"y":{"field":"pct","type":"quantitative","scale":{"domain":[17.79,72.91],"zero":false,"nice":false}},"color":{"field":"cand","type":"nominal","scale":{"domain":["Biden","Trump"],"range":["#4b65ad","#e1524b"]},"legend":null}}},
{"mark":{"type":"text","font":"Roboto","fontWeight":"bold","fontSize":15,"align":"left","baseline":"middle","dx":3,"dy":-2,"color":"#5a72b6"},"encoding":{"x":{"datum":60,"type":"quantitative","scale":{"domain":[-8.04,93.75],"zero":false,"nice":false}},"y":{"field":"biden","type":"quantitative","scale":{"domain":[17.79,72.91],"zero":false,"nice":false}},"text":{"field":"bl"}}},
{"mark":{"type":"text","font":"Roboto","fontWeight":"bold","fontSize":15,"align":"left","baseline":"middle","dx":3,"dy":-2,"color":"#e4564d"},"encoding":{"x":{"datum":60,"type":"quantitative","scale":{"domain":[-8.04,93.75],"zero":false,"nice":false}},"y":{"field":"trump","type":"quantitative","scale":{"domain":[17.79,72.91],"zero":false,"nice":false}},"text":{"field":"tl"}}},
{"mark":{"type":"rect","color":"#ffff00"},"encoding":{"x":{"datum":-5.65,"type":"quantitative","scale":{"domain":[-8.04,93.75],"zero":false,"nice":false}},"x2":{"datum":36.61},"y":{"datum":65.81,"type":"quantitative","scale":{"domain":[17.79,72.91],"zero":false,"nice":false}},"y2":{"datum":72.44}}},
{"mark":{"type":"text","font":"Lato","fontWeight":"bold","fontSize":29,"color":"#000000","baseline":"middle"},"encoding":{"x":{"datum":15.48,"type":"quantitative","scale":{"domain":[-8.04,93.75],"zero":false,"nice":false}},"y":{"datum":69.07,"type":"quantitative","scale":{"domain":[17.79,72.91],"zero":false,"nice":false}},"text":{"field":"name"}}},
{"mark":{"type":"rect","color":"#4472c4","stroke":"#2f528f","strokeWidth":1},"encoding":{"x":{"datum":-5.36,"type":"quantitative","scale":{"domain":[-8.04,93.75],"zero":false,"nice":false}},"x2":{"datum":26.49},"y":{"datum":58.49,"type":"quantitative","scale":{"domain":[17.79,72.91],"zero":false,"nice":false}},"y2":{"datum":65.58}}},
{"mark":{"type":"text","font":"Lato","fontSize":24,"color":"#ffffff","baseline":"middle"},"encoding":{"x":{"datum":10.42,"type":"quantitative","scale":{"domain":[-8.04,93.75],"zero":false,"nice":false}},"y":{"datum":62.09,"type":"quantitative","scale":{"domain":[17.79,72.91],"zero":false,"nice":false}},"text":{"field":"change"}}},
{"mark":{"type":"text","font":"Roboto","fontWeight":"bold","fontSize":12,"color":"#333333","baseline":"middle"},"encoding":{"x":{"datum":60.1,"type":"quantitative","scale":{"domain":[-8.04,93.75],"zero":false,"nice":false}},"y":{"datum":70,"type":"quantitative","scale":{"domain":[17.79,72.91],"zero":false,"nice":false}},"text":{"value":"OCT. 31 LEADER"}}},
{"mark":{"type":"text","font":"Roboto","fontSize":16,"color":"#555555","baseline":"middle"},"encoding":{"x":{"datum":60.1,"type":"quantitative","scale":{"domain":[-8.04,93.75],"zero":false,"nice":false}},"y":{"datum":67.44,"type":"quantitative","scale":{"domain":[17.79,72.91],"zero":false,"nice":false}},"text":{"field":"leader"}}},
{"mark":{"type":"rect","color":"#e1e5ef","stroke":"#8193bd","strokeWidth":1.2,"cornerRadius":5},"encoding":{"x":{"datum":50.6,"type":"quantitative","scale":{"domain":[-8.04,93.75],"zero":false,"nice":false}},"x2":{"datum":69.94},"y":{"datum":63.26,"type":"quantitative","scale":{"domain":[17.79,72.91],"zero":false,"nice":false}},"y2":{"datum":65.7}}},
{"mark":{"type":"text","font":"DejaVu Sans Mono","fontSize":14,"color":"#333333","baseline":"middle"},"encoding":{"x":{"datum":60.1,"type":"quantitative","scale":{"domain":[-8.04,93.75],"zero":false,"nice":false}},"y":{"datum":64.48,"type":"quantitative","scale":{"domain":[17.79,72.91],"zero":false,"nice":false}},"text":{"field":"margin"}}},
{"mark":{"type":"rule","color":"#111111","strokeWidth":2.5,"yOffset":-2},"encoding":{"x":{"datum":-6.55,"type":"quantitative","scale":{"domain":[-8.04,93.75],"zero":false,"nice":false}},"x2":{"datum":93.75},"y":{"datum":17.79,"type":"quantitative","scale":{"domain":[17.79,72.91],"zero":false,"nice":false}}}},
{"mark":{"type":"rule","color":"#111111","strokeWidth":2.5,"xOffset":5},"encoding":{"x":{"datum":-8.04,"type":"quantitative","scale":{"domain":[-8.04,93.75],"zero":false,"nice":false}},"y":{"datum":17.79,"type":"quantitative","scale":{"domain":[17.79,72.91],"zero":false,"nice":false}},"y2":{"datum":72.91}}}
]},
{"width":411,"height":474,"data":{"name":"summary"},"transform":[{"filter":"datum.st=='NC'"}],"layer":[
{"data":{"values":[{"g":30},{"g":40},{"g":50},{"g":60}]},"mark":{"type":"rule","color":"#e2e2e2"},"encoding":{"x":{"datum":-6.17,"type":"quantitative","scale":{"domain":[-13.67,96.51],"zero":false,"nice":false}},"x2":{"datum":57.37},"y":{"field":"g","type":"quantitative","scale":{"domain":[23.03,71.64],"zero":false,"nice":false}}}},
{"data":{"values":[{"d":0,"t":"SEPT."},{"d":30,"t":"OCT."}]},"mark":{"type":"rule","color":"#e2e2e2"},"encoding":{"x":{"field":"d","type":"quantitative","scale":{"domain":[-13.67,96.51],"zero":false,"nice":false}},"y":{"datum":70,"type":"quantitative","scale":{"domain":[23.03,71.64],"zero":false,"nice":false}},"y2":{"datum":26.0}}},
{"data":{"values":[{"d":0,"t":"SEPT."},{"d":30,"t":"OCT."}]},"mark":{"type":"text","font":"Roboto","fontSize":13,"color":"#aaaaaa","baseline":"middle"},"encoding":{"x":{"field":"d","type":"quantitative","scale":{"domain":[-13.67,96.51],"zero":false,"nice":false}},"y":{"datum":24.67,"type":"quantitative","scale":{"domain":[23.03,71.64],"zero":false,"nice":false}},"text":{"field":"t"}}},
{"mark":{"type":"rule","color":"#777777","strokeDash":[2,2]},"encoding":{"x":{"datum":60,"type":"quantitative","scale":{"domain":[-13.67,96.51],"zero":false,"nice":false}},"y":{"datum":63.85,"type":"quantitative","scale":{"domain":[23.03,71.64],"zero":false,"nice":false}},"y2":{"datum":23.03}}},
{"data":{"name":"polls"},"transform":[{"filter":"datum.state=='NC'"}],"mark":{"type":"circle","size":62,"opacity":0.28},"encoding":{"x":{"field":"day","type":"quantitative","scale":{"domain":[-13.67,96.51],"zero":false,"nice":false}},"y":{"field":"pct","type":"quantitative","scale":{"domain":[23.03,71.64],"zero":false,"nice":false}},"color":{"field":"cand","type":"nominal","scale":{"domain":["Biden","Trump"],"range":["#4b65ad","#e1524b"]},"legend":null}}},
{"data":{"name":"avg"},"transform":[{"filter":"datum.state=='NC'"}],"mark":{"type":"line","strokeWidth":2.6},"encoding":{"x":{"field":"day","type":"quantitative","scale":{"domain":[-13.67,96.51],"zero":false,"nice":false}},"y":{"field":"pct","type":"quantitative","scale":{"domain":[23.03,71.64],"zero":false,"nice":false}},"color":{"field":"cand","type":"nominal","scale":{"domain":["Biden","Trump"],"range":["#4b65ad","#e1524b"]},"legend":null}}},
{"mark":{"type":"text","font":"Roboto","fontWeight":"bold","fontSize":17,"align":"left","baseline":"middle","dx":3,"dy":-3,"color":"#5a72b6"},"encoding":{"x":{"datum":60,"type":"quantitative","scale":{"domain":[-13.67,96.51],"zero":false,"nice":false}},"y":{"field":"biden","type":"quantitative","scale":{"domain":[23.03,71.64],"zero":false,"nice":false}},"text":{"field":"bl"}}},
{"mark":{"type":"text","font":"Roboto","fontWeight":"bold","fontSize":17,"align":"left","baseline":"middle","dx":3,"dy":-3,"color":"#e4564d"},"encoding":{"x":{"datum":60,"type":"quantitative","scale":{"domain":[-13.67,96.51],"zero":false,"nice":false}},"y":{"field":"trump","type":"quantitative","scale":{"domain":[23.03,71.64],"zero":false,"nice":false}},"text":{"field":"tl"}}},
{"mark":{"type":"rect","color":"#ffff00"},"encoding":{"x":{"datum":-11.8,"type":"quantitative","scale":{"domain":[-13.67,96.51],"zero":false,"nice":false}},"x2":{"datum":46.11},"y":{"datum":65.38,"type":"quantitative","scale":{"domain":[23.03,71.64],"zero":false,"nice":false}},"y2":{"datum":71.13}}},
{"mark":{"type":"text","font":"Lato","fontWeight":"bold","fontSize":29,"color":"#000000","baseline":"middle"},"encoding":{"x":{"datum":17.16,"type":"quantitative","scale":{"domain":[-13.67,96.51],"zero":false,"nice":false}},"y":{"datum":68.15,"type":"quantitative","scale":{"domain":[23.03,71.64],"zero":false,"nice":false}},"text":{"field":"name"}}},
{"mark":{"type":"rect","color":"#4472c4","stroke":"#2f528f","strokeWidth":1},"encoding":{"x":{"datum":-11.26,"type":"quantitative","scale":{"domain":[-13.67,96.51],"zero":false,"nice":false}},"x2":{"datum":17.69},"y":{"datum":58.92,"type":"quantitative","scale":{"domain":[23.03,71.64],"zero":false,"nice":false}},"y2":{"datum":65.18}}},
{"mark":{"type":"text","font":"Lato","fontSize":24,"color":"#ffffff","baseline":"middle"},"encoding":{"x":{"datum":3.22,"type":"quantitative","scale":{"domain":[-13.67,96.51],"zero":false,"nice":false}},"y":{"datum":62.05,"type":"quantitative","scale":{"domain":[23.03,71.64],"zero":false,"nice":false}},"text":{"field":"change"}}},
{"mark":{"type":"text","font":"Roboto","fontWeight":"bold","fontSize":13.5,"color":"#333333","baseline":"middle"},"encoding":{"x":{"datum":60.05,"type":"quantitative","scale":{"domain":[-13.67,96.51],"zero":false,"nice":false}},"y":{"datum":70,"type":"quantitative","scale":{"domain":[23.03,71.64],"zero":false,"nice":false}},"text":{"value":"OCT. 31 LEADER"}}},
{"mark":{"type":"text","font":"Roboto","fontSize":18,"color":"#555555","baseline":"middle"},"encoding":{"x":{"datum":60.05,"type":"quantitative","scale":{"domain":[-13.67,96.51],"zero":false,"nice":false}},"y":{"datum":67.64,"type":"quantitative","scale":{"domain":[23.03,71.64],"zero":false,"nice":false}},"text":{"field":"leader"}}},
{"mark":{"type":"rect","color":"#e1e5ef","stroke":"#8193bd","strokeWidth":1.2,"cornerRadius":5},"encoding":{"x":{"datum":50.67,"type":"quantitative","scale":{"domain":[-13.67,96.51],"zero":false,"nice":false}},"x2":{"datum":69.44},"y":{"datum":63.85,"type":"quantitative","scale":{"domain":[23.03,71.64],"zero":false,"nice":false}},"y2":{"datum":66.0}}},
{"mark":{"type":"text","font":"DejaVu Sans Mono","fontSize":15,"color":"#333333","baseline":"middle"},"encoding":{"x":{"datum":60.05,"type":"quantitative","scale":{"domain":[-13.67,96.51],"zero":false,"nice":false}},"y":{"datum":64.92,"type":"quantitative","scale":{"domain":[23.03,71.64],"zero":false,"nice":false}},"text":{"field":"margin"}}},
{"mark":{"type":"rule","color":"#111111","strokeWidth":2.5,"yOffset":-2},"encoding":{"x":{"datum":-13.67,"type":"quantitative","scale":{"domain":[-13.67,96.51],"zero":false,"nice":false}},"x2":{"datum":96.51},"y":{"datum":23.03,"type":"quantitative","scale":{"domain":[23.03,71.64],"zero":false,"nice":false}}}}
]},
{"width":372,"height":474,"data":{"name":"summary"},"transform":[{"filter":"datum.st=='OH'"}],"layer":[
{"data":{"values":[{"g":40},{"g":50},{"g":60}]},"mark":{"type":"rule","color":"#e2e2e2"},"encoding":{"x":{"datum":-4.42,"type":"quantitative","scale":{"domain":[-4.19,82.33],"zero":false,"nice":false}},"x2":{"datum":57.44},"y":{"field":"g","type":"quantitative","scale":{"domain":[28.1,73.03],"zero":false,"nice":false}}}},
{"mark":{"type":"rule","color":"#e2e2e2"},"encoding":{"x":{"datum":-4.42,"type":"quantitative","scale":{"domain":[-4.19,82.33],"zero":false,"nice":false}},"x2":{"datum":45.6},"y":{"datum":70,"type":"quantitative","scale":{"domain":[28.1,73.03],"zero":false,"nice":false}}}},
{"data":{"values":[{"d":0,"t":"SEPT."},{"d":30,"t":"OCT."}]},"mark":{"type":"rule","color":"#e2e2e2"},"encoding":{"x":{"field":"d","type":"quantitative","scale":{"domain":[-4.19,82.33],"zero":false,"nice":false}},"y":{"datum":70.95,"type":"quantitative","scale":{"domain":[28.1,73.03],"zero":false,"nice":false}},"y2":{"datum":29.43}}},
{"data":{"values":[{"d":0,"t":"SEPT."},{"d":30,"t":"OCT."}]},"mark":{"type":"text","font":"Roboto","fontSize":14,"color":"#aaaaaa","baseline":"middle"},"encoding":{"x":{"field":"d","type":"quantitative","scale":{"domain":[-4.19,82.33],"zero":false,"nice":false}},"y":{"datum":28.86,"type":"quantitative","scale":{"domain":[28.1,73.03],"zero":false,"nice":false}},"text":{"field":"t"}}},
{"mark":{"type":"rule","color":"#777777","strokeDash":[2,2]},"encoding":{"x":{"datum":60,"type":"quantitative","scale":{"domain":[-4.19,82.33],"zero":false,"nice":false}},"y":{"datum":64.41,"type":"quantitative","scale":{"domain":[28.1,73.03],"zero":false,"nice":false}},"y2":{"datum":28.1}}},
{"data":{"name":"polls"},"transform":[{"filter":"datum.state=='OH'"}],"mark":{"type":"circle","size":70,"opacity":0.28},"encoding":{"x":{"field":"day","type":"quantitative","scale":{"domain":[-4.19,82.33],"zero":false,"nice":false}},"y":{"field":"pct","type":"quantitative","scale":{"domain":[28.1,73.03],"zero":false,"nice":false}},"color":{"field":"cand","type":"nominal","scale":{"domain":["Biden","Trump"],"range":["#4b65ad","#e1524b"]},"legend":null}}},
{"data":{"name":"avg"},"transform":[{"filter":"datum.state=='OH'"}],"mark":{"type":"line","strokeWidth":2.8},"encoding":{"x":{"field":"day","type":"quantitative","scale":{"domain":[-4.19,82.33],"zero":false,"nice":false}},"y":{"field":"pct","type":"quantitative","scale":{"domain":[28.1,73.03],"zero":false,"nice":false}},"color":{"field":"cand","type":"nominal","scale":{"domain":["Biden","Trump"],"range":["#4b65ad","#e1524b"]},"legend":null}}},
{"mark":{"type":"text","font":"Roboto","fontWeight":"bold","fontSize":18.5,"align":"left","baseline":"middle","dx":3,"dy":3,"color":"#5a72b6"},"encoding":{"x":{"datum":60,"type":"quantitative","scale":{"domain":[-4.19,82.33],"zero":false,"nice":false}},"y":{"field":"biden","type":"quantitative","scale":{"domain":[28.1,73.03],"zero":false,"nice":false}},"text":{"field":"bl"}}},
{"mark":{"type":"text","font":"Roboto","fontWeight":"bold","fontSize":18.5,"align":"left","baseline":"middle","dx":3,"dy":-9,"color":"#e4564d"},"encoding":{"x":{"datum":60,"type":"quantitative","scale":{"domain":[-4.19,82.33],"zero":false,"nice":false}},"y":{"field":"trump","type":"quantitative","scale":{"domain":[28.1,73.03],"zero":false,"nice":false}},"text":{"field":"tl"}}},
{"mark":{"type":"rect","color":"#ffff00"},"encoding":{"x":{"datum":-2.56,"type":"quantitative","scale":{"domain":[-4.19,82.33],"zero":false,"nice":false}},"x2":{"datum":20.47},"y":{"datum":67.35,"type":"quantitative","scale":{"domain":[28.1,73.03],"zero":false,"nice":false}},"y2":{"datum":72.56}}},
{"mark":{"type":"text","font":"Lato","fontWeight":"bold","fontSize":29,"color":"#000000","baseline":"middle"},"encoding":{"x":{"datum":7.21,"type":"quantitative","scale":{"domain":[-4.19,82.33],"zero":false,"nice":false}},"y":{"datum":69.81,"type":"quantitative","scale":{"domain":[28.1,73.03],"zero":false,"nice":false}},"text":{"field":"name"}}},
{"mark":{"type":"rect","color":"#ff0000","stroke":"#8b1a1a","strokeWidth":1},"encoding":{"x":{"datum":-2.56,"type":"quantitative","scale":{"domain":[-4.19,82.33],"zero":false,"nice":false}},"x2":{"datum":22.33},"y":{"datum":61.18,"type":"quantitative","scale":{"domain":[28.1,73.03],"zero":false,"nice":false}},"y2":{"datum":66.87}}},
{"mark":{"type":"text","font":"Lato","fontSize":24,"color":"#000000","baseline":"middle"},"encoding":{"x":{"datum":9.53,"type":"quantitative","scale":{"domain":[-4.19,82.33],"zero":false,"nice":false}},"y":{"datum":63.93,"type":"quantitative","scale":{"domain":[28.1,73.03],"zero":false,"nice":false}},"text":{"field":"change"}}},
{"mark":{"type":"text","font":"Roboto","fontWeight":"bold","fontSize":15,"color":"#333333","baseline":"middle"},"encoding":{"x":{"datum":60.23,"type":"quantitative","scale":{"domain":[-4.19,82.33],"zero":false,"nice":false}},"y":{"datum":70,"type":"quantitative","scale":{"domain":[28.1,73.03],"zero":false,"nice":false}},"text":{"value":"OCT. 31 LEADER"}}},
{"mark":{"type":"text","font":"Roboto","fontSize":20,"color":"#555555","baseline":"middle"},"encoding":{"x":{"datum":60.23,"type":"quantitative","scale":{"domain":[-4.19,82.33],"zero":false,"nice":false}},"y":{"datum":67.82,"type":"quantitative","scale":{"domain":[28.1,73.03],"zero":false,"nice":false}},"text":{"field":"leader"}}},
{"mark":{"type":"rect","color":"#fbdede","stroke":"#e08a8a","strokeWidth":1.2,"cornerRadius":5},"encoding":{"x":{"datum":51.16,"type":"quantitative","scale":{"domain":[-4.19,82.33],"zero":false,"nice":false}},"x2":{"datum":69.07},"y":{"datum":64.41,"type":"quantitative","scale":{"domain":[28.1,73.03],"zero":false,"nice":false}},"y2":{"datum":66.49}}},
{"mark":{"type":"text","font":"DejaVu Sans Mono","fontSize":16,"color":"#333333","baseline":"middle"},"encoding":{"x":{"datum":60.23,"type":"quantitative","scale":{"domain":[-4.19,82.33],"zero":false,"nice":false}},"y":{"datum":65.45,"type":"quantitative","scale":{"domain":[28.1,73.03],"zero":false,"nice":false}},"text":{"field":"margin"}}},
{"mark":{"type":"rule","color":"#111111","strokeWidth":2.5,"yOffset":-2},"encoding":{"x":{"datum":-4.19,"type":"quantitative","scale":{"domain":[-4.19,82.33],"zero":false,"nice":false}},"x2":{"datum":82.33},"y":{"datum":28.1,"type":"quantitative","scale":{"domain":[28.1,73.03],"zero":false,"nice":false}}}}
]},
{"width":397,"height":474,"data":{"name":"summary"},"transform":[{"filter":"datum.st=='PA'"}],"layer":[
{"data":{"values":[{"g":30},{"g":40},{"g":50},{"g":60}]},"mark":{"type":"rule","color":"#e2e2e2"},"encoding":{"x":{"datum":-6.1,"type":"quantitative","scale":{"domain":[-23.17,97.87],"zero":false,"nice":false}},"x2":{"datum":57.6},"y":{"field":"g","type":"quantitative","scale":{"domain":[24.95,71.88],"zero":false,"nice":false}}}},
{"mark":{"type":"rule","color":"#e2e2e2"},"encoding":{"x":{"datum":-6.1,"type":"quantitative","scale":{"domain":[-23.17,97.87],"zero":false,"nice":false}},"x2":{"datum":43.9},"y":{"datum":70,"type":"quantitative","scale":{"domain":[24.95,71.88],"zero":false,"nice":false}}}},
{"data":{"values":[{"d":0,"t":"SEPT."},{"d":30,"t":"OCT."}]},"mark":{"type":"rule","color":"#e2e2e2"},"encoding":{"x":{"field":"d","type":"quantitative","scale":{"domain":[-23.17,97.87],"zero":false,"nice":false}},"y":{"datum":71,"type":"quantitative","scale":{"domain":[24.95,71.88],"zero":false,"nice":false}},"y2":{"datum":27.6}}},
{"data":{"values":[{"d":0,"t":"SEPT."},{"d":30,"t":"OCT."}]},"mark":{"type":"text","font":"Roboto","fontSize":12,"color":"#aaaaaa","baseline":"middle"},"encoding":{"x":{"field":"d","type":"quantitative","scale":{"domain":[-23.17,97.87],"zero":false,"nice":false}},"y":{"datum":26.34,"type":"quantitative","scale":{"domain":[24.95,71.88],"zero":false,"nice":false}},"text":{"field":"t"}}},
{"mark":{"type":"rule","color":"#777777","strokeDash":[2,2]},"encoding":{"x":{"datum":60,"type":"quantitative","scale":{"domain":[-23.17,97.87],"zero":false,"nice":false}},"y":{"datum":64.06,"type":"quantitative","scale":{"domain":[24.95,71.88],"zero":false,"nice":false}},"y2":{"datum":24.95}}},
{"data":{"name":"polls"},"transform":[{"filter":"datum.state=='PA'"}],"mark":{"type":"circle","size":55,"opacity":0.28},"encoding":{"x":{"field":"day","type":"quantitative","scale":{"domain":[-23.17,97.87],"zero":false,"nice":false}},"y":{"field":"pct","type":"quantitative","scale":{"domain":[24.95,71.88],"zero":false,"nice":false}},"color":{"field":"cand","type":"nominal","scale":{"domain":["Biden","Trump"],"range":["#4b65ad","#e1524b"]},"legend":null}}},
{"data":{"name":"avg"},"transform":[{"filter":"datum.state=='PA'"}],"mark":{"type":"line","strokeWidth":2.5},"encoding":{"x":{"field":"day","type":"quantitative","scale":{"domain":[-23.17,97.87],"zero":false,"nice":false}},"y":{"field":"pct","type":"quantitative","scale":{"domain":[24.95,71.88],"zero":false,"nice":false}},"color":{"field":"cand","type":"nominal","scale":{"domain":["Biden","Trump"],"range":["#4b65ad","#e1524b"]},"legend":null}}},
{"mark":{"type":"text","font":"Roboto","fontWeight":"bold","fontSize":15,"align":"left","baseline":"middle","dx":3,"dy":-2,"color":"#5a72b6"},"encoding":{"x":{"datum":60,"type":"quantitative","scale":{"domain":[-23.17,97.87],"zero":false,"nice":false}},"y":{"field":"biden","type":"quantitative","scale":{"domain":[24.95,71.88],"zero":false,"nice":false}},"text":{"field":"bl"}}},
{"mark":{"type":"text","font":"Roboto","fontWeight":"bold","fontSize":15,"align":"left","baseline":"middle","dx":3,"dy":-1,"color":"#e4564d"},"encoding":{"x":{"datum":60,"type":"quantitative","scale":{"domain":[-23.17,97.87],"zero":false,"nice":false}},"y":{"field":"trump","type":"quantitative","scale":{"domain":[24.95,71.88],"zero":false,"nice":false}},"text":{"field":"tl"}}},
{"mark":{"type":"rect","color":"#ffff00"},"encoding":{"x":{"datum":-19.2,"type":"quantitative","scale":{"domain":[-23.17,97.87],"zero":false,"nice":false}},"x2":{"datum":40.55},"y":{"datum":65.84,"type":"quantitative","scale":{"domain":[24.95,71.88],"zero":false,"nice":false}},"y2":{"datum":71.39}}},
{"mark":{"type":"text","font":"Lato","fontWeight":"bold","fontSize":29,"color":"#000000","baseline":"middle"},"encoding":{"x":{"datum":10.67,"type":"quantitative","scale":{"domain":[-23.17,97.87],"zero":false,"nice":false}},"y":{"datum":68.61,"type":"quantitative","scale":{"domain":[24.95,71.88],"zero":false,"nice":false}},"text":{"field":"name"}}},
{"mark":{"type":"rect","color":"#4472c4","stroke":"#2f528f","strokeWidth":1},"encoding":{"x":{"datum":-18.6,"type":"quantitative","scale":{"domain":[-23.17,97.87],"zero":false,"nice":false}},"x2":{"datum":14.02},"y":{"datum":59.6,"type":"quantitative","scale":{"domain":[24.95,71.88],"zero":false,"nice":false}},"y2":{"datum":65.64}}},
{"mark":{"type":"text","font":"Lato","fontSize":24,"color":"#000000","baseline":"middle"},"encoding":{"x":{"datum":-2.74,"type":"quantitative","scale":{"domain":[-23.17,97.87],"zero":false,"nice":false}},"y":{"datum":62.57,"type":"quantitative","scale":{"domain":[24.95,71.88],"zero":false,"nice":false}},"text":{"field":"change"}}},
{"mark":{"type":"text","font":"Roboto","fontWeight":"bold","fontSize":12,"color":"#333333","baseline":"middle"},"encoding":{"x":{"datum":60.06,"type":"quantitative","scale":{"domain":[-23.17,97.87],"zero":false,"nice":false}},"y":{"datum":70,"type":"quantitative","scale":{"domain":[24.95,71.88],"zero":false,"nice":false}},"text":{"value":"OCT. 31 LEADER"}}},
{"mark":{"type":"text","font":"Roboto","fontSize":16,"color":"#555555","baseline":"middle"},"encoding":{"x":{"datum":60.06,"type":"quantitative","scale":{"domain":[-23.17,97.87],"zero":false,"nice":false}},"y":{"datum":67.82,"type":"quantitative","scale":{"domain":[24.95,71.88],"zero":false,"nice":false}},"text":{"field":"leader"}}},
{"mark":{"type":"rect","color":"#e1e5ef","stroke":"#8193bd","strokeWidth":1.2,"cornerRadius":5},"encoding":{"x":{"datum":50.61,"type":"quantitative","scale":{"domain":[-23.17,97.87],"zero":false,"nice":false}},"x2":{"datum":69.82},"y":{"datum":64.06,"type":"quantitative","scale":{"domain":[24.95,71.88],"zero":false,"nice":false}},"y2":{"datum":66.24}}},
{"mark":{"type":"text","font":"DejaVu Sans Mono","fontSize":14,"color":"#333333","baseline":"middle"},"encoding":{"x":{"datum":60.06,"type":"quantitative","scale":{"domain":[-23.17,97.87],"zero":false,"nice":false}},"y":{"datum":65.15,"type":"quantitative","scale":{"domain":[24.95,71.88],"zero":false,"nice":false}},"text":{"field":"margin"}}},
{"mark":{"type":"rule","color":"#111111","strokeWidth":2.5,"yOffset":-2},"encoding":{"x":{"datum":-23.17,"type":"quantitative","scale":{"domain":[-23.17,97.87],"zero":false,"nice":false}},"x2":{"datum":96.96},"y":{"datum":24.95,"type":"quantitative","scale":{"domain":[24.95,71.88],"zero":false,"nice":false}}}},
{"mark":{"type":"rule","color":"#111111","strokeWidth":2.5,"xOffset":-3},"encoding":{"x":{"datum":97.87,"type":"quantitative","scale":{"domain":[-23.17,97.87],"zero":false,"nice":false}},"y":{"datum":24.95,"type":"quantitative","scale":{"domain":[24.95,71.88],"zero":false,"nice":false}},"y2":{"datum":71.88}}}
]}
]
}
